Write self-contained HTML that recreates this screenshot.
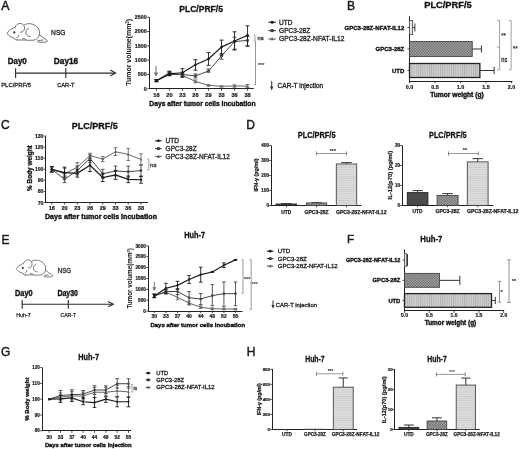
<!DOCTYPE html>
<html><head><meta charset="utf-8"><style>
html,body{margin:0;padding:0;background:#fff;width:520px;height:449px;overflow:hidden}
svg{display:block;filter:grayscale(1)}
text{font-family:"Liberation Sans", sans-serif;paint-order:stroke}
</style></head><body>
<svg width="520" height="449" viewBox="0 0 520 449">
<rect width="520" height="449" fill="#fff"/>
<text x="1.30" y="10.10" font-size="12.3" fill="#1a1a1a" stroke="#1a1a1a" stroke-width="0.45">A</text>
<g>
<g fill="none" stroke="#5a5a5a" stroke-width="0.85" stroke-linecap="round" stroke-linejoin="round">
<path d="M23.9,25.1 C26,23.6 29,23.4 31.5,23.9 C35.5,24.7 38.6,27.5 39.4,31.2 C40.1,34.6 38.6,38.2 35.6,39.7 C32.5,40.6 28,40.3 25.2,40 L17,40" fill="#fff"/>
<path d="M15.1,27.4 C12.5,28 9.6,30 7.9,31.9 C7.0,32.9 7.2,34 8.3,34.9 C10,36.5 12,37.5 14.2,38 L14.4,39 C15.3,39.8 16.5,40 17.4,39.9"/>
<path d="M15.1,27.4 C15.6,24.9 17.9,23.3 20.4,23.4 C23.3,23.6 24.9,26.2 24.5,28.8 C24.2,31 22.6,32.4 20.6,32.2" fill="#fff"/>
<path d="M28.6,28.2 C26.4,29.2 25.6,31.6 26.1,33.6 C26.5,35.6 28.2,36.7 30.2,36.6"/>
<path d="M18.7,35.1 C18.9,36.5 18.2,37.3 17,37.5"/>
<path d="M22.5,38.6 C23.8,38.3 25.5,38.7 26.4,39.8"/>
<path d="M39.3,34.6 C41.2,36.6 44.5,38.6 46.8,40.1 C47.8,40.8 47.4,41.8 46.2,42 C43.5,42.3 40.3,42.4 38.3,42 C37.1,41.7 37.3,40.8 38.6,40.5 C40,40.2 41.8,40.3 42.8,40.1" stroke="#555"/>
</g>
<circle cx="14.3" cy="32.3" r="1.1" fill="#222"/>
</g>
<text x="51.10" y="34.60" font-size="6.9" textLength="14.40" lengthAdjust="spacingAndGlyphs" fill="#222" stroke="#222" stroke-width="0.28">NSG</text>
<line x1="15.60" y1="73.10" x2="115.30" y2="73.10" stroke="#2a2a2a" stroke-width="1.1"/>
<line x1="15.60" y1="68.30" x2="15.60" y2="78.00" stroke="#2a2a2a" stroke-width="1.1"/>
<line x1="65.80" y1="68.30" x2="65.80" y2="78.00" stroke="#2a2a2a" stroke-width="1.1"/>
<polyline points="110.2,70.1 115.6,73.1 110.2,76.1" fill="none" stroke="#2a2a2a" stroke-width="1.1"/>
<text x="7.70" y="63.90" font-size="8.8" font-weight="bold" textLength="19.10" lengthAdjust="spacingAndGlyphs" fill="#111" stroke="#111" stroke-width="0.35">Day0</text>
<text x="53.80" y="63.90" font-size="8.8" font-weight="bold" textLength="24.40" lengthAdjust="spacingAndGlyphs" fill="#111" stroke="#111" stroke-width="0.35">Day16</text>
<text x="1.20" y="87.30" font-size="6.0" textLength="29.80" lengthAdjust="spacingAndGlyphs" fill="#222" stroke="#222" stroke-width="0.28">PLC/PRF/5</text>
<text x="57.20" y="87.30" font-size="6.0" textLength="17.40" lengthAdjust="spacingAndGlyphs" fill="#222" stroke="#222" stroke-width="0.28">CAR-T</text>
<text x="179.20" y="12.00" font-size="9.4" font-weight="bold" textLength="43.80" lengthAdjust="spacingAndGlyphs" fill="#111" stroke="#111" stroke-width="0.3">PLC/PRF/5</text>
<line x1="149.50" y1="17.20" x2="149.50" y2="89.00" stroke="#222" stroke-width="1.0"/>
<line x1="149.00" y1="88.50" x2="253.80" y2="88.50" stroke="#222" stroke-width="1.0"/>
<line x1="147.20" y1="88.80" x2="149.20" y2="88.80" stroke="#222" stroke-width="0.8"/>
<text x="146.80" y="90.74" font-size="5.4" font-weight="bold" text-anchor="end" fill="#222" stroke="#222" stroke-width="0.22">0</text>
<line x1="147.20" y1="74.48" x2="149.20" y2="74.48" stroke="#222" stroke-width="0.8"/>
<text x="146.80" y="76.42" font-size="5.4" font-weight="bold" text-anchor="end" fill="#222" stroke="#222" stroke-width="0.22">500</text>
<line x1="147.20" y1="60.16" x2="149.20" y2="60.16" stroke="#222" stroke-width="0.8"/>
<text x="146.80" y="62.10" font-size="5.4" font-weight="bold" text-anchor="end" fill="#222" stroke="#222" stroke-width="0.22">1000</text>
<line x1="147.20" y1="45.84" x2="149.20" y2="45.84" stroke="#222" stroke-width="0.8"/>
<text x="146.80" y="47.78" font-size="5.4" font-weight="bold" text-anchor="end" fill="#222" stroke="#222" stroke-width="0.22">1500</text>
<line x1="147.20" y1="31.52" x2="149.20" y2="31.52" stroke="#222" stroke-width="0.8"/>
<text x="146.80" y="33.46" font-size="5.4" font-weight="bold" text-anchor="end" fill="#222" stroke="#222" stroke-width="0.22">2000</text>
<line x1="147.20" y1="17.20" x2="149.20" y2="17.20" stroke="#222" stroke-width="0.8"/>
<text x="146.80" y="19.14" font-size="5.4" font-weight="bold" text-anchor="end" fill="#222" stroke="#222" stroke-width="0.22">2500</text>
<line x1="156.40" y1="88.80" x2="156.40" y2="90.80" stroke="#222" stroke-width="0.8"/>
<text x="156.40" y="96.90" font-size="5.6" font-weight="bold" text-anchor="middle" fill="#222" stroke="#222" stroke-width="0.22">16</text>
<line x1="169.42" y1="88.80" x2="169.42" y2="90.80" stroke="#222" stroke-width="0.8"/>
<text x="169.42" y="96.90" font-size="5.6" font-weight="bold" text-anchor="middle" fill="#222" stroke="#222" stroke-width="0.22">20</text>
<line x1="182.44" y1="88.80" x2="182.44" y2="90.80" stroke="#222" stroke-width="0.8"/>
<text x="182.44" y="96.90" font-size="5.6" font-weight="bold" text-anchor="middle" fill="#222" stroke="#222" stroke-width="0.22">23</text>
<line x1="195.46" y1="88.80" x2="195.46" y2="90.80" stroke="#222" stroke-width="0.8"/>
<text x="195.46" y="96.90" font-size="5.6" font-weight="bold" text-anchor="middle" fill="#222" stroke="#222" stroke-width="0.22">26</text>
<line x1="208.48" y1="88.80" x2="208.48" y2="90.80" stroke="#222" stroke-width="0.8"/>
<text x="208.48" y="96.90" font-size="5.6" font-weight="bold" text-anchor="middle" fill="#222" stroke="#222" stroke-width="0.22">29</text>
<line x1="221.50" y1="88.80" x2="221.50" y2="90.80" stroke="#222" stroke-width="0.8"/>
<text x="221.50" y="96.90" font-size="5.6" font-weight="bold" text-anchor="middle" fill="#222" stroke="#222" stroke-width="0.22">33</text>
<line x1="234.52" y1="88.80" x2="234.52" y2="90.80" stroke="#222" stroke-width="0.8"/>
<text x="234.52" y="96.90" font-size="5.6" font-weight="bold" text-anchor="middle" fill="#222" stroke="#222" stroke-width="0.22">36</text>
<line x1="247.54" y1="88.80" x2="247.54" y2="90.80" stroke="#222" stroke-width="0.8"/>
<text x="247.54" y="96.90" font-size="5.6" font-weight="bold" text-anchor="middle" fill="#222" stroke="#222" stroke-width="0.22">38</text>
<line x1="156.40" y1="79.64" x2="156.40" y2="81.64" stroke="#666" stroke-width="0.9"/>
<line x1="154.40" y1="79.64" x2="158.40" y2="79.64" stroke="#666" stroke-width="0.9"/>
<line x1="154.40" y1="81.64" x2="158.40" y2="81.64" stroke="#666" stroke-width="0.9"/>
<line x1="169.42" y1="71.04" x2="169.42" y2="73.91" stroke="#666" stroke-width="0.9"/>
<line x1="167.42" y1="71.04" x2="171.42" y2="71.04" stroke="#666" stroke-width="0.9"/>
<line x1="167.42" y1="73.91" x2="171.42" y2="73.91" stroke="#666" stroke-width="0.9"/>
<line x1="182.44" y1="73.62" x2="182.44" y2="76.77" stroke="#666" stroke-width="0.9"/>
<line x1="180.44" y1="73.62" x2="184.44" y2="73.62" stroke="#666" stroke-width="0.9"/>
<line x1="180.44" y1="76.77" x2="184.44" y2="76.77" stroke="#666" stroke-width="0.9"/>
<line x1="195.46" y1="79.92" x2="195.46" y2="82.79" stroke="#666" stroke-width="0.9"/>
<line x1="193.46" y1="79.92" x2="197.46" y2="79.92" stroke="#666" stroke-width="0.9"/>
<line x1="193.46" y1="82.79" x2="197.46" y2="82.79" stroke="#666" stroke-width="0.9"/>
<line x1="208.48" y1="84.79" x2="208.48" y2="85.94" stroke="#666" stroke-width="0.9"/>
<line x1="206.48" y1="84.79" x2="210.48" y2="84.79" stroke="#666" stroke-width="0.9"/>
<line x1="206.48" y1="85.94" x2="210.48" y2="85.94" stroke="#666" stroke-width="0.9"/>
<line x1="221.50" y1="85.94" x2="221.50" y2="86.80" stroke="#666" stroke-width="0.9"/>
<line x1="219.50" y1="85.94" x2="223.50" y2="85.94" stroke="#666" stroke-width="0.9"/>
<line x1="219.50" y1="86.80" x2="223.50" y2="86.80" stroke="#666" stroke-width="0.9"/>
<line x1="234.52" y1="84.79" x2="234.52" y2="87.08" stroke="#666" stroke-width="0.9"/>
<line x1="232.52" y1="84.79" x2="236.52" y2="84.79" stroke="#666" stroke-width="0.9"/>
<line x1="232.52" y1="87.08" x2="236.52" y2="87.08" stroke="#666" stroke-width="0.9"/>
<line x1="247.54" y1="84.50" x2="247.54" y2="87.37" stroke="#666" stroke-width="0.9"/>
<line x1="245.54" y1="84.50" x2="249.54" y2="84.50" stroke="#666" stroke-width="0.9"/>
<line x1="245.54" y1="87.37" x2="249.54" y2="87.37" stroke="#666" stroke-width="0.9"/>
<polyline points="156.40,80.69 169.42,72.48 182.44,75.34 195.46,81.35 208.48,85.31 221.50,86.31 234.52,85.99 247.54,86.08" fill="none" stroke="#666" stroke-width="1.0"/>
<path d="M156.40,79.26 L157.96,81.86 L154.84,81.86Z" fill="#666"/>
<path d="M169.42,71.05 L170.98,73.65 L167.86,73.65Z" fill="#666"/>
<path d="M182.44,73.91 L184.00,76.51 L180.88,76.51Z" fill="#666"/>
<path d="M195.46,79.92 L197.02,82.52 L193.90,82.52Z" fill="#666"/>
<path d="M208.48,83.88 L210.04,86.48 L206.92,86.48Z" fill="#666"/>
<path d="M221.50,84.88 L223.06,87.48 L219.94,87.48Z" fill="#666"/>
<path d="M234.52,84.56 L236.08,87.16 L232.96,87.16Z" fill="#666"/>
<path d="M247.54,84.65 L249.10,87.25 L245.98,87.25Z" fill="#666"/>
<line x1="156.40" y1="79.64" x2="156.40" y2="81.64" stroke="#464646" stroke-width="0.9"/>
<line x1="154.40" y1="79.64" x2="158.40" y2="79.64" stroke="#464646" stroke-width="0.9"/>
<line x1="154.40" y1="81.64" x2="158.40" y2="81.64" stroke="#464646" stroke-width="0.9"/>
<line x1="169.42" y1="72.76" x2="169.42" y2="75.91" stroke="#464646" stroke-width="0.9"/>
<line x1="167.42" y1="72.76" x2="171.42" y2="72.76" stroke="#464646" stroke-width="0.9"/>
<line x1="167.42" y1="75.91" x2="171.42" y2="75.91" stroke="#464646" stroke-width="0.9"/>
<line x1="182.44" y1="72.19" x2="182.44" y2="76.48" stroke="#464646" stroke-width="0.9"/>
<line x1="180.44" y1="72.19" x2="184.44" y2="72.19" stroke="#464646" stroke-width="0.9"/>
<line x1="180.44" y1="76.48" x2="184.44" y2="76.48" stroke="#464646" stroke-width="0.9"/>
<line x1="195.46" y1="73.91" x2="195.46" y2="77.92" stroke="#464646" stroke-width="0.9"/>
<line x1="193.46" y1="73.91" x2="197.46" y2="73.91" stroke="#464646" stroke-width="0.9"/>
<line x1="193.46" y1="77.92" x2="197.46" y2="77.92" stroke="#464646" stroke-width="0.9"/>
<line x1="208.48" y1="69.04" x2="208.48" y2="72.19" stroke="#464646" stroke-width="0.9"/>
<line x1="206.48" y1="69.04" x2="210.48" y2="69.04" stroke="#464646" stroke-width="0.9"/>
<line x1="206.48" y1="72.19" x2="210.48" y2="72.19" stroke="#464646" stroke-width="0.9"/>
<line x1="221.50" y1="53.57" x2="221.50" y2="59.30" stroke="#464646" stroke-width="0.9"/>
<line x1="219.50" y1="53.57" x2="223.50" y2="53.57" stroke="#464646" stroke-width="0.9"/>
<line x1="219.50" y1="59.30" x2="223.50" y2="59.30" stroke="#464646" stroke-width="0.9"/>
<line x1="234.52" y1="37.25" x2="234.52" y2="50.14" stroke="#464646" stroke-width="0.9"/>
<line x1="232.52" y1="37.25" x2="236.52" y2="37.25" stroke="#464646" stroke-width="0.9"/>
<line x1="232.52" y1="50.14" x2="236.52" y2="50.14" stroke="#464646" stroke-width="0.9"/>
<line x1="247.54" y1="36.39" x2="247.54" y2="46.41" stroke="#464646" stroke-width="0.9"/>
<line x1="245.54" y1="36.39" x2="249.54" y2="36.39" stroke="#464646" stroke-width="0.9"/>
<line x1="245.54" y1="46.41" x2="249.54" y2="46.41" stroke="#464646" stroke-width="0.9"/>
<polyline points="156.40,80.69 169.42,74.48 182.44,74.48 195.46,75.91 208.48,71.04 221.50,55.86 234.52,41.54 247.54,40.40" fill="none" stroke="#464646" stroke-width="1.0"/>
<rect x="155.10" y="79.39" width="2.60" height="2.60" fill="#464646" stroke="none" stroke-width="0"/>
<rect x="168.12" y="73.18" width="2.60" height="2.60" fill="#464646" stroke="none" stroke-width="0"/>
<rect x="181.14" y="73.18" width="2.60" height="2.60" fill="#464646" stroke="none" stroke-width="0"/>
<rect x="194.16" y="74.61" width="2.60" height="2.60" fill="#464646" stroke="none" stroke-width="0"/>
<rect x="207.18" y="69.74" width="2.60" height="2.60" fill="#464646" stroke="none" stroke-width="0"/>
<rect x="220.20" y="54.56" width="2.60" height="2.60" fill="#464646" stroke="none" stroke-width="0"/>
<rect x="233.22" y="40.24" width="2.60" height="2.60" fill="#464646" stroke="none" stroke-width="0"/>
<rect x="246.24" y="39.10" width="2.60" height="2.60" fill="#464646" stroke="none" stroke-width="0"/>
<line x1="156.40" y1="79.64" x2="156.40" y2="81.64" stroke="#1a1a1a" stroke-width="0.9"/>
<line x1="154.40" y1="79.64" x2="158.40" y2="79.64" stroke="#1a1a1a" stroke-width="0.9"/>
<line x1="154.40" y1="81.64" x2="158.40" y2="81.64" stroke="#1a1a1a" stroke-width="0.9"/>
<line x1="169.42" y1="71.62" x2="169.42" y2="75.34" stroke="#1a1a1a" stroke-width="0.9"/>
<line x1="167.42" y1="71.62" x2="171.42" y2="71.62" stroke="#1a1a1a" stroke-width="0.9"/>
<line x1="167.42" y1="75.34" x2="171.42" y2="75.34" stroke="#1a1a1a" stroke-width="0.9"/>
<line x1="182.44" y1="68.75" x2="182.44" y2="77.34" stroke="#1a1a1a" stroke-width="0.9"/>
<line x1="180.44" y1="68.75" x2="184.44" y2="68.75" stroke="#1a1a1a" stroke-width="0.9"/>
<line x1="180.44" y1="77.34" x2="184.44" y2="77.34" stroke="#1a1a1a" stroke-width="0.9"/>
<line x1="195.46" y1="59.70" x2="195.46" y2="70.18" stroke="#1a1a1a" stroke-width="0.9"/>
<line x1="193.46" y1="59.70" x2="197.46" y2="59.70" stroke="#1a1a1a" stroke-width="0.9"/>
<line x1="193.46" y1="70.18" x2="197.46" y2="70.18" stroke="#1a1a1a" stroke-width="0.9"/>
<line x1="208.48" y1="52.43" x2="208.48" y2="65.32" stroke="#1a1a1a" stroke-width="0.9"/>
<line x1="206.48" y1="52.43" x2="210.48" y2="52.43" stroke="#1a1a1a" stroke-width="0.9"/>
<line x1="206.48" y1="65.32" x2="210.48" y2="65.32" stroke="#1a1a1a" stroke-width="0.9"/>
<line x1="221.50" y1="40.11" x2="221.50" y2="55.00" stroke="#1a1a1a" stroke-width="0.9"/>
<line x1="219.50" y1="40.11" x2="223.50" y2="40.11" stroke="#1a1a1a" stroke-width="0.9"/>
<line x1="219.50" y1="55.00" x2="223.50" y2="55.00" stroke="#1a1a1a" stroke-width="0.9"/>
<line x1="234.52" y1="31.81" x2="234.52" y2="49.28" stroke="#1a1a1a" stroke-width="0.9"/>
<line x1="232.52" y1="31.81" x2="236.52" y2="31.81" stroke="#1a1a1a" stroke-width="0.9"/>
<line x1="232.52" y1="49.28" x2="236.52" y2="49.28" stroke="#1a1a1a" stroke-width="0.9"/>
<line x1="247.54" y1="25.79" x2="247.54" y2="45.84" stroke="#1a1a1a" stroke-width="0.9"/>
<line x1="245.54" y1="25.79" x2="249.54" y2="25.79" stroke="#1a1a1a" stroke-width="0.9"/>
<line x1="245.54" y1="45.84" x2="249.54" y2="45.84" stroke="#1a1a1a" stroke-width="0.9"/>
<polyline points="156.40,80.69 169.42,73.91 182.44,72.76 195.46,64.80 208.48,59.01 221.50,47.10 234.52,41.00 247.54,35.30" fill="none" stroke="#1a1a1a" stroke-width="1.2"/>
<circle cx="156.40" cy="80.69" r="1.30" fill="#1a1a1a"/>
<circle cx="169.42" cy="73.91" r="1.30" fill="#1a1a1a"/>
<circle cx="182.44" cy="72.76" r="1.30" fill="#1a1a1a"/>
<circle cx="195.46" cy="64.80" r="1.30" fill="#1a1a1a"/>
<circle cx="208.48" cy="59.01" r="1.30" fill="#1a1a1a"/>
<circle cx="221.50" cy="47.10" r="1.30" fill="#1a1a1a"/>
<circle cx="234.52" cy="41.00" r="1.30" fill="#1a1a1a"/>
<circle cx="247.54" cy="35.30" r="1.30" fill="#1a1a1a"/>
<text x="149.30" y="105.70" font-size="7.0" font-weight="bold" textLength="106.30" lengthAdjust="spacingAndGlyphs" fill="#111" stroke="#111" stroke-width="0.35">Days after tumor cells incubation</text>
<text transform="translate(131.3 85.7) rotate(-90)" font-size="7" font-weight="bold" fill="#111" textLength="66.9" lengthAdjust="spacingAndGlyphs">Tumor volume(mm<tspan font-size="4.5" dy="-2.6">3</tspan><tspan dy="2.6">)</tspan></text>
<line x1="156.00" y1="66.00" x2="156.00" y2="75.50" stroke="#777" stroke-width="1.1"/>
<path d="M153.6,72.6 L156,76.6 L158.4,72.6 Z" fill="#777"/>
<polyline points="253.6,35.0 254.9,35.0 254.9,41.0 253.6,41.0" fill="none" stroke="#888" stroke-width="0.8"/>
<text x="257.60" y="39.60" font-size="6.0" textLength="6.20" lengthAdjust="spacingAndGlyphs" fill="#333" stroke="#333" stroke-width="0.3">ns</text>
<polyline points="255.5,41.2 255.5,84.7 253.8,84.7" fill="none" stroke="#888" stroke-width="0.9"/>
<text x="257.90" y="66.60" font-size="6.2" textLength="6.40" lengthAdjust="spacingAndGlyphs" fill="#333" stroke="#333" stroke-width="0.15">***</text>
<line x1="268.40" y1="22.20" x2="275.80" y2="22.20" stroke="#1a1a1a" stroke-width="1.1"/>
<circle cx="272.10" cy="22.20" r="1.50" fill="#1a1a1a"/>
<text x="279.10" y="24.55" font-size="6.5" fill="#222" stroke="#222" stroke-width="0.3">UTD</text>
<line x1="268.40" y1="30.60" x2="275.80" y2="30.60" stroke="#3a3a3a" stroke-width="1.1"/>
<rect x="270.60" y="29.10" width="3.00" height="3.00" fill="#3a3a3a" stroke="none" stroke-width="0"/>
<text x="279.10" y="32.95" font-size="6.5" fill="#222" stroke="#222" stroke-width="0.3">GPC3-28Z</text>
<line x1="268.40" y1="39.00" x2="275.80" y2="39.00" stroke="#5a5a5a" stroke-width="1.1"/>
<path d="M272.10,37.35 L273.90,40.35 L270.30,40.35Z" fill="#5a5a5a"/>
<text x="279.10" y="41.35" font-size="6.5" textLength="65.30" lengthAdjust="spacingAndGlyphs" fill="#222" stroke="#222" stroke-width="0.3">GPC3-28Z-NFAT-IL12</text>
<line x1="271.70" y1="80.90" x2="271.70" y2="88.00" stroke="#333" stroke-width="1.0"/>
<path d="M270.0,86.6 L271.7,90.4 L273.4,86.6 Z" fill="#333"/>
<text x="277.60" y="88.40" font-size="6.5" textLength="45.60" lengthAdjust="spacingAndGlyphs" fill="#222" stroke="#222" stroke-width="0.3">CAR-T injection</text>
<defs>
<pattern id="hx" width="2.6" height="2.6" patternUnits="userSpaceOnUse"><rect width="2.6" height="2.6" fill="#c0c0c0"/><rect width="1.3" height="1.3" fill="#525252"/><rect x="1.3" y="1.3" width="1.3" height="1.3" fill="#525252"/></pattern>
<pattern id="vs" width="2.2" height="4" patternUnits="userSpaceOnUse"><rect width="2.2" height="4" fill="#d2d2d2"/><rect width="0.9" height="4" fill="#adadad"/></pattern>
<pattern id="hs" width="4" height="2.2" patternUnits="userSpaceOnUse"><rect width="4" height="2.2" fill="#dddddd"/><rect width="4" height="0.8" fill="#cbcbcb"/></pattern>
<pattern id="dk" width="2.4" height="2.4" patternUnits="userSpaceOnUse"><rect width="2.4" height="2.4" fill="#5a5a5a"/><rect width="1.2" height="1.2" fill="#3a3a3a"/><rect x="1.2" y="1.2" width="1.2" height="1.2" fill="#3a3a3a"/></pattern>
</defs>
<text x="347.00" y="10.10" font-size="12.0" fill="#1a1a1a" stroke="#1a1a1a" stroke-width="0.45">B</text>
<text x="424.20" y="7.90" font-size="9.4" font-weight="bold" textLength="47.50" lengthAdjust="spacingAndGlyphs" fill="#111" stroke="#111" stroke-width="0.3">PLC/PRF/5</text>
<line x1="409.50" y1="16.20" x2="409.50" y2="82.00" stroke="#222" stroke-width="1.0"/>
<line x1="409.00" y1="81.50" x2="512.50" y2="81.50" stroke="#222" stroke-width="1.0"/>
<line x1="409.50" y1="81.20" x2="409.50" y2="83.20" stroke="#222" stroke-width="0.8"/>
<text x="409.50" y="88.90" font-size="5.4" font-weight="bold" text-anchor="middle" fill="#222" stroke="#222" stroke-width="0.22">0.0</text>
<line x1="435.00" y1="81.20" x2="435.00" y2="83.20" stroke="#222" stroke-width="0.8"/>
<text x="435.00" y="88.90" font-size="5.4" font-weight="bold" text-anchor="middle" fill="#222" stroke="#222" stroke-width="0.22">0.5</text>
<line x1="460.50" y1="81.20" x2="460.50" y2="83.20" stroke="#222" stroke-width="0.8"/>
<text x="460.50" y="88.90" font-size="5.4" font-weight="bold" text-anchor="middle" fill="#222" stroke="#222" stroke-width="0.22">1.0</text>
<line x1="486.00" y1="81.20" x2="486.00" y2="83.20" stroke="#222" stroke-width="0.8"/>
<text x="486.00" y="88.90" font-size="5.4" font-weight="bold" text-anchor="middle" fill="#222" stroke="#222" stroke-width="0.22">1.5</text>
<line x1="511.50" y1="81.20" x2="511.50" y2="83.20" stroke="#222" stroke-width="0.8"/>
<text x="511.50" y="88.90" font-size="5.4" font-weight="bold" text-anchor="middle" fill="#222" stroke="#222" stroke-width="0.22">2.0</text>
<line x1="412.56" y1="27.50" x2="414.86" y2="27.50" stroke="#333" stroke-width="1.0"/>
<line x1="414.86" y1="23.50" x2="414.86" y2="31.50" stroke="#333" stroke-width="1.0"/>
<rect x="409.50" y="20.50" width="3.06" height="14.00" fill="#e8e8e8" stroke="#555" stroke-width="0.9"/>
<line x1="407.50" y1="27.50" x2="409.50" y2="27.50" stroke="#222" stroke-width="0.8"/>
<text x="404.30" y="29.66" font-size="6.0" font-weight="bold" text-anchor="end" textLength="59.80" lengthAdjust="spacingAndGlyphs" fill="#111" stroke="#111" stroke-width="0.35">GPC3-28Z-NFAT-IL12</text>
<line x1="472.23" y1="49.00" x2="481.41" y2="49.00" stroke="#333" stroke-width="1.0"/>
<line x1="481.41" y1="45.40" x2="481.41" y2="52.60" stroke="#333" stroke-width="1.0"/>
<rect x="409.50" y="41.50" width="62.73" height="15.00" fill="url(#hx)" stroke="#444" stroke-width="0.9"/>
<line x1="407.50" y1="49.00" x2="409.50" y2="49.00" stroke="#222" stroke-width="0.8"/>
<text x="404.30" y="51.16" font-size="6.0" font-weight="bold" text-anchor="end" fill="#111" stroke="#111" stroke-width="0.35">GPC3-28Z</text>
<line x1="479.88" y1="70.50" x2="494.16" y2="70.50" stroke="#333" stroke-width="1.0"/>
<line x1="494.16" y1="66.80" x2="494.16" y2="74.20" stroke="#333" stroke-width="1.0"/>
<rect x="409.50" y="63.50" width="70.38" height="14.00" fill="url(#vs)" stroke="#222" stroke-width="1.3"/>
<line x1="407.50" y1="70.50" x2="409.50" y2="70.50" stroke="#222" stroke-width="0.8"/>
<text x="404.30" y="72.66" font-size="6.0" font-weight="bold" text-anchor="end" fill="#111" stroke="#111" stroke-width="0.35">UTD</text>
<text x="430.20" y="96.80" font-size="6.8" font-weight="bold" textLength="53.50" lengthAdjust="spacingAndGlyphs" fill="#111" stroke="#111" stroke-width="0.35">Tumor weight (g)</text>
<polyline points="497.00,20.60 499.60,20.60 499.60,69.90 497.00,69.90" fill="none" stroke="#888" stroke-width="0.8"/>
<line x1="497.00" y1="47.00" x2="499.60" y2="47.00" stroke="#888" stroke-width="0.8"/>
<text x="501.20" y="38.20" font-size="6.6" textLength="4.80" lengthAdjust="spacingAndGlyphs" fill="#222" stroke="#222" stroke-width="0.15">**</text>
<text x="501.30" y="61.70" font-size="7.0" textLength="6.00" lengthAdjust="spacingAndGlyphs" fill="#333" stroke="#333" stroke-width="0.3">ns</text>
<polyline points="508.70,20.60 511.10,20.60 511.10,69.90 508.70,69.90" fill="none" stroke="#888" stroke-width="0.8"/>
<text x="512.80" y="51.20" font-size="6.6" textLength="4.90" lengthAdjust="spacingAndGlyphs" fill="#222" stroke="#222" stroke-width="0.15">**</text>
<text x="1.00" y="128.50" font-size="12.0" fill="#1a1a1a" stroke="#1a1a1a" stroke-width="0.45">C</text>
<text x="71.80" y="128.50" font-size="9.6" font-weight="bold" textLength="46.00" lengthAdjust="spacingAndGlyphs" fill="#111" stroke="#111" stroke-width="0.3">PLC/PRF/5</text>
<line x1="45.50" y1="135.90" x2="45.50" y2="203.00" stroke="#222" stroke-width="1.0"/>
<line x1="45.00" y1="202.50" x2="148.00" y2="202.50" stroke="#222" stroke-width="1.0"/>
<line x1="43.90" y1="202.60" x2="45.90" y2="202.60" stroke="#222" stroke-width="0.8"/>
<text x="43.50" y="204.54" font-size="5.4" font-weight="bold" text-anchor="end" textLength="5.80" lengthAdjust="spacingAndGlyphs" fill="#222" stroke="#222" stroke-width="0.22">70</text>
<line x1="43.90" y1="191.52" x2="45.90" y2="191.52" stroke="#222" stroke-width="0.8"/>
<text x="43.50" y="193.46" font-size="5.4" font-weight="bold" text-anchor="end" textLength="5.80" lengthAdjust="spacingAndGlyphs" fill="#222" stroke="#222" stroke-width="0.22">80</text>
<line x1="43.90" y1="180.43" x2="45.90" y2="180.43" stroke="#222" stroke-width="0.8"/>
<text x="43.50" y="182.38" font-size="5.4" font-weight="bold" text-anchor="end" textLength="5.80" lengthAdjust="spacingAndGlyphs" fill="#222" stroke="#222" stroke-width="0.22">90</text>
<line x1="43.90" y1="169.35" x2="45.90" y2="169.35" stroke="#222" stroke-width="0.8"/>
<text x="43.50" y="171.29" font-size="5.4" font-weight="bold" text-anchor="end" textLength="8.60" lengthAdjust="spacingAndGlyphs" fill="#222" stroke="#222" stroke-width="0.22">100</text>
<line x1="43.90" y1="158.27" x2="45.90" y2="158.27" stroke="#222" stroke-width="0.8"/>
<text x="43.50" y="160.21" font-size="5.4" font-weight="bold" text-anchor="end" textLength="8.60" lengthAdjust="spacingAndGlyphs" fill="#222" stroke="#222" stroke-width="0.22">110</text>
<line x1="43.90" y1="147.19" x2="45.90" y2="147.19" stroke="#222" stroke-width="0.8"/>
<text x="43.50" y="149.13" font-size="5.4" font-weight="bold" text-anchor="end" textLength="8.60" lengthAdjust="spacingAndGlyphs" fill="#222" stroke="#222" stroke-width="0.22">120</text>
<line x1="43.90" y1="136.10" x2="45.90" y2="136.10" stroke="#222" stroke-width="0.8"/>
<text x="43.50" y="138.05" font-size="5.4" font-weight="bold" text-anchor="end" textLength="8.60" lengthAdjust="spacingAndGlyphs" fill="#222" stroke="#222" stroke-width="0.22">130</text>
<line x1="51.80" y1="202.60" x2="51.80" y2="204.60" stroke="#222" stroke-width="0.8"/>
<text x="51.80" y="209.60" font-size="5.6" font-weight="bold" text-anchor="middle" fill="#222" stroke="#222" stroke-width="0.22">16</text>
<line x1="64.54" y1="202.60" x2="64.54" y2="204.60" stroke="#222" stroke-width="0.8"/>
<text x="64.54" y="209.60" font-size="5.6" font-weight="bold" text-anchor="middle" fill="#222" stroke="#222" stroke-width="0.22">20</text>
<line x1="77.28" y1="202.60" x2="77.28" y2="204.60" stroke="#222" stroke-width="0.8"/>
<text x="77.28" y="209.60" font-size="5.6" font-weight="bold" text-anchor="middle" fill="#222" stroke="#222" stroke-width="0.22">23</text>
<line x1="90.02" y1="202.60" x2="90.02" y2="204.60" stroke="#222" stroke-width="0.8"/>
<text x="90.02" y="209.60" font-size="5.6" font-weight="bold" text-anchor="middle" fill="#222" stroke="#222" stroke-width="0.22">26</text>
<line x1="102.76" y1="202.60" x2="102.76" y2="204.60" stroke="#222" stroke-width="0.8"/>
<text x="102.76" y="209.60" font-size="5.6" font-weight="bold" text-anchor="middle" fill="#222" stroke="#222" stroke-width="0.22">29</text>
<line x1="115.50" y1="202.60" x2="115.50" y2="204.60" stroke="#222" stroke-width="0.8"/>
<text x="115.50" y="209.60" font-size="5.6" font-weight="bold" text-anchor="middle" fill="#222" stroke="#222" stroke-width="0.22">33</text>
<line x1="128.24" y1="202.60" x2="128.24" y2="204.60" stroke="#222" stroke-width="0.8"/>
<text x="128.24" y="209.60" font-size="5.6" font-weight="bold" text-anchor="middle" fill="#222" stroke="#222" stroke-width="0.22">36</text>
<line x1="140.98" y1="202.60" x2="140.98" y2="204.60" stroke="#222" stroke-width="0.8"/>
<text x="140.98" y="209.60" font-size="5.6" font-weight="bold" text-anchor="middle" fill="#222" stroke="#222" stroke-width="0.22">38</text>
<line x1="51.80" y1="167.13" x2="51.80" y2="171.57" stroke="#666" stroke-width="0.9"/>
<line x1="49.90" y1="167.13" x2="53.70" y2="167.13" stroke="#666" stroke-width="0.9"/>
<line x1="49.90" y1="171.57" x2="53.70" y2="171.57" stroke="#666" stroke-width="0.9"/>
<line x1="64.54" y1="168.24" x2="64.54" y2="178.22" stroke="#666" stroke-width="0.9"/>
<line x1="62.64" y1="168.24" x2="66.44" y2="168.24" stroke="#666" stroke-width="0.9"/>
<line x1="62.64" y1="178.22" x2="66.44" y2="178.22" stroke="#666" stroke-width="0.9"/>
<line x1="77.28" y1="162.70" x2="77.28" y2="171.57" stroke="#666" stroke-width="0.9"/>
<line x1="75.38" y1="162.70" x2="79.18" y2="162.70" stroke="#666" stroke-width="0.9"/>
<line x1="75.38" y1="171.57" x2="79.18" y2="171.57" stroke="#666" stroke-width="0.9"/>
<line x1="90.02" y1="153.28" x2="90.02" y2="158.27" stroke="#666" stroke-width="0.9"/>
<line x1="88.12" y1="153.28" x2="91.92" y2="153.28" stroke="#666" stroke-width="0.9"/>
<line x1="88.12" y1="158.27" x2="91.92" y2="158.27" stroke="#666" stroke-width="0.9"/>
<line x1="102.76" y1="156.61" x2="102.76" y2="161.59" stroke="#666" stroke-width="0.9"/>
<line x1="100.86" y1="156.61" x2="104.66" y2="156.61" stroke="#666" stroke-width="0.9"/>
<line x1="100.86" y1="161.59" x2="104.66" y2="161.59" stroke="#666" stroke-width="0.9"/>
<line x1="115.50" y1="147.74" x2="115.50" y2="155.50" stroke="#666" stroke-width="0.9"/>
<line x1="113.60" y1="147.74" x2="117.40" y2="147.74" stroke="#666" stroke-width="0.9"/>
<line x1="113.60" y1="155.50" x2="117.40" y2="155.50" stroke="#666" stroke-width="0.9"/>
<line x1="128.24" y1="148.29" x2="128.24" y2="160.48" stroke="#666" stroke-width="0.9"/>
<line x1="126.34" y1="148.29" x2="130.14" y2="148.29" stroke="#666" stroke-width="0.9"/>
<line x1="126.34" y1="160.48" x2="130.14" y2="160.48" stroke="#666" stroke-width="0.9"/>
<line x1="140.98" y1="153.83" x2="140.98" y2="164.92" stroke="#666" stroke-width="0.9"/>
<line x1="139.08" y1="153.83" x2="142.88" y2="153.83" stroke="#666" stroke-width="0.9"/>
<line x1="139.08" y1="164.92" x2="142.88" y2="164.92" stroke="#666" stroke-width="0.9"/>
<polyline points="51.80,169.35 64.54,173.78 77.28,167.13 90.02,155.61 102.76,159.04 115.50,151.73 128.24,154.39 140.98,159.49" fill="none" stroke="#666" stroke-width="1.0"/>
<path d="M51.80,168.03 L53.24,170.43 L50.36,170.43Z" fill="#666"/>
<path d="M64.54,172.46 L65.98,174.86 L63.10,174.86Z" fill="#666"/>
<path d="M77.28,165.81 L78.72,168.21 L75.84,168.21Z" fill="#666"/>
<path d="M90.02,154.29 L91.46,156.69 L88.58,156.69Z" fill="#666"/>
<path d="M102.76,157.72 L104.20,160.12 L101.32,160.12Z" fill="#666"/>
<path d="M115.50,150.41 L116.94,152.81 L114.06,152.81Z" fill="#666"/>
<path d="M128.24,153.07 L129.68,155.47 L126.80,155.47Z" fill="#666"/>
<path d="M140.98,158.17 L142.42,160.57 L139.54,160.57Z" fill="#666"/>
<line x1="51.80" y1="166.58" x2="51.80" y2="172.12" stroke="#464646" stroke-width="0.9"/>
<line x1="49.90" y1="166.58" x2="53.70" y2="166.58" stroke="#464646" stroke-width="0.9"/>
<line x1="49.90" y1="172.12" x2="53.70" y2="172.12" stroke="#464646" stroke-width="0.9"/>
<line x1="64.54" y1="176.00" x2="64.54" y2="182.65" stroke="#464646" stroke-width="0.9"/>
<line x1="62.64" y1="176.00" x2="66.44" y2="176.00" stroke="#464646" stroke-width="0.9"/>
<line x1="62.64" y1="182.65" x2="66.44" y2="182.65" stroke="#464646" stroke-width="0.9"/>
<line x1="77.28" y1="166.03" x2="77.28" y2="174.89" stroke="#464646" stroke-width="0.9"/>
<line x1="75.38" y1="166.03" x2="79.18" y2="166.03" stroke="#464646" stroke-width="0.9"/>
<line x1="75.38" y1="174.89" x2="79.18" y2="174.89" stroke="#464646" stroke-width="0.9"/>
<line x1="90.02" y1="154.94" x2="90.02" y2="162.70" stroke="#464646" stroke-width="0.9"/>
<line x1="88.12" y1="154.94" x2="91.92" y2="154.94" stroke="#464646" stroke-width="0.9"/>
<line x1="88.12" y1="162.70" x2="91.92" y2="162.70" stroke="#464646" stroke-width="0.9"/>
<line x1="102.76" y1="169.35" x2="102.76" y2="178.22" stroke="#464646" stroke-width="0.9"/>
<line x1="100.86" y1="169.35" x2="104.66" y2="169.35" stroke="#464646" stroke-width="0.9"/>
<line x1="100.86" y1="178.22" x2="104.66" y2="178.22" stroke="#464646" stroke-width="0.9"/>
<line x1="115.50" y1="166.03" x2="115.50" y2="176.00" stroke="#464646" stroke-width="0.9"/>
<line x1="113.60" y1="166.03" x2="117.40" y2="166.03" stroke="#464646" stroke-width="0.9"/>
<line x1="113.60" y1="176.00" x2="117.40" y2="176.00" stroke="#464646" stroke-width="0.9"/>
<line x1="128.24" y1="166.03" x2="128.24" y2="177.11" stroke="#464646" stroke-width="0.9"/>
<line x1="126.34" y1="166.03" x2="130.14" y2="166.03" stroke="#464646" stroke-width="0.9"/>
<line x1="126.34" y1="177.11" x2="130.14" y2="177.11" stroke="#464646" stroke-width="0.9"/>
<line x1="140.98" y1="164.92" x2="140.98" y2="176.00" stroke="#464646" stroke-width="0.9"/>
<line x1="139.08" y1="164.92" x2="142.88" y2="164.92" stroke="#464646" stroke-width="0.9"/>
<line x1="139.08" y1="176.00" x2="142.88" y2="176.00" stroke="#464646" stroke-width="0.9"/>
<polyline points="51.80,169.35 64.54,179.33 77.28,170.57 90.02,158.38 102.76,173.78 115.50,171.01 128.24,171.68 140.98,170.57" fill="none" stroke="#464646" stroke-width="1.0"/>
<rect x="50.60" y="168.15" width="2.40" height="2.40" fill="#464646" stroke="none" stroke-width="0"/>
<rect x="63.34" y="178.13" width="2.40" height="2.40" fill="#464646" stroke="none" stroke-width="0"/>
<rect x="76.08" y="169.37" width="2.40" height="2.40" fill="#464646" stroke="none" stroke-width="0"/>
<rect x="88.82" y="157.18" width="2.40" height="2.40" fill="#464646" stroke="none" stroke-width="0"/>
<rect x="101.56" y="172.58" width="2.40" height="2.40" fill="#464646" stroke="none" stroke-width="0"/>
<rect x="114.30" y="169.81" width="2.40" height="2.40" fill="#464646" stroke="none" stroke-width="0"/>
<rect x="127.04" y="170.48" width="2.40" height="2.40" fill="#464646" stroke="none" stroke-width="0"/>
<rect x="139.78" y="169.37" width="2.40" height="2.40" fill="#464646" stroke="none" stroke-width="0"/>
<line x1="51.80" y1="166.58" x2="51.80" y2="172.12" stroke="#1a1a1a" stroke-width="0.9"/>
<line x1="49.90" y1="166.58" x2="53.70" y2="166.58" stroke="#1a1a1a" stroke-width="0.9"/>
<line x1="49.90" y1="172.12" x2="53.70" y2="172.12" stroke="#1a1a1a" stroke-width="0.9"/>
<line x1="64.54" y1="167.13" x2="64.54" y2="177.11" stroke="#1a1a1a" stroke-width="0.9"/>
<line x1="62.64" y1="167.13" x2="66.44" y2="167.13" stroke="#1a1a1a" stroke-width="0.9"/>
<line x1="62.64" y1="177.11" x2="66.44" y2="177.11" stroke="#1a1a1a" stroke-width="0.9"/>
<line x1="77.28" y1="169.35" x2="77.28" y2="177.11" stroke="#1a1a1a" stroke-width="0.9"/>
<line x1="75.38" y1="169.35" x2="79.18" y2="169.35" stroke="#1a1a1a" stroke-width="0.9"/>
<line x1="75.38" y1="177.11" x2="79.18" y2="177.11" stroke="#1a1a1a" stroke-width="0.9"/>
<line x1="90.02" y1="160.48" x2="90.02" y2="171.57" stroke="#1a1a1a" stroke-width="0.9"/>
<line x1="88.12" y1="160.48" x2="91.92" y2="160.48" stroke="#1a1a1a" stroke-width="0.9"/>
<line x1="88.12" y1="171.57" x2="91.92" y2="171.57" stroke="#1a1a1a" stroke-width="0.9"/>
<line x1="102.76" y1="173.78" x2="102.76" y2="181.54" stroke="#1a1a1a" stroke-width="0.9"/>
<line x1="100.86" y1="173.78" x2="104.66" y2="173.78" stroke="#1a1a1a" stroke-width="0.9"/>
<line x1="100.86" y1="181.54" x2="104.66" y2="181.54" stroke="#1a1a1a" stroke-width="0.9"/>
<line x1="115.50" y1="170.46" x2="115.50" y2="179.33" stroke="#1a1a1a" stroke-width="0.9"/>
<line x1="113.60" y1="170.46" x2="117.40" y2="170.46" stroke="#1a1a1a" stroke-width="0.9"/>
<line x1="113.60" y1="179.33" x2="117.40" y2="179.33" stroke="#1a1a1a" stroke-width="0.9"/>
<line x1="128.24" y1="176.00" x2="128.24" y2="182.65" stroke="#1a1a1a" stroke-width="0.9"/>
<line x1="126.34" y1="176.00" x2="130.14" y2="176.00" stroke="#1a1a1a" stroke-width="0.9"/>
<line x1="126.34" y1="182.65" x2="130.14" y2="182.65" stroke="#1a1a1a" stroke-width="0.9"/>
<line x1="140.98" y1="176.55" x2="140.98" y2="183.20" stroke="#1a1a1a" stroke-width="0.9"/>
<line x1="139.08" y1="176.55" x2="142.88" y2="176.55" stroke="#1a1a1a" stroke-width="0.9"/>
<line x1="139.08" y1="183.20" x2="142.88" y2="183.20" stroke="#1a1a1a" stroke-width="0.9"/>
<polyline points="51.80,169.35 64.54,172.68 77.28,173.34 90.02,165.25 102.76,177.55 115.50,174.89 128.24,179.33 140.98,179.77" fill="none" stroke="#1a1a1a" stroke-width="1.2"/>
<circle cx="51.80" cy="169.35" r="1.20" fill="#1a1a1a"/>
<circle cx="64.54" cy="172.68" r="1.20" fill="#1a1a1a"/>
<circle cx="77.28" cy="173.34" r="1.20" fill="#1a1a1a"/>
<circle cx="90.02" cy="165.25" r="1.20" fill="#1a1a1a"/>
<circle cx="102.76" cy="177.55" r="1.20" fill="#1a1a1a"/>
<circle cx="115.50" cy="174.89" r="1.20" fill="#1a1a1a"/>
<circle cx="128.24" cy="179.33" r="1.20" fill="#1a1a1a"/>
<circle cx="140.98" cy="179.77" r="1.20" fill="#1a1a1a"/>
<text x="45.00" y="218.70" font-size="7.0" font-weight="bold" textLength="112.00" lengthAdjust="spacingAndGlyphs" fill="#111" stroke="#111" stroke-width="0.35">Days after tumor cells incubation</text>
<text transform="translate(31.90 190.90) rotate(-90)" font-size="6.4" font-weight="bold" fill="#111" stroke="#111" stroke-width="0.3" textLength="45.60" lengthAdjust="spacingAndGlyphs">% Body weight</text>
<line x1="155.20" y1="140.80" x2="161.60" y2="140.80" stroke="#1a1a1a" stroke-width="1.1"/>
<circle cx="158.40" cy="140.80" r="1.40" fill="#1a1a1a"/>
<text x="165.60" y="143.14" font-size="6.5" fill="#222" stroke="#222" stroke-width="0.3">UTD</text>
<line x1="155.20" y1="148.60" x2="161.60" y2="148.60" stroke="#3a3a3a" stroke-width="1.1"/>
<rect x="157.00" y="147.20" width="2.80" height="2.80" fill="#3a3a3a" stroke="none" stroke-width="0"/>
<text x="165.60" y="150.94" font-size="6.5" fill="#222" stroke="#222" stroke-width="0.3">GPC3-28Z</text>
<line x1="155.20" y1="156.40" x2="161.60" y2="156.40" stroke="#5a5a5a" stroke-width="1.1"/>
<path d="M158.40,154.86 L160.08,157.66 L156.72,157.66Z" fill="#5a5a5a"/>
<text x="165.60" y="158.74" font-size="6.5" textLength="64.30" lengthAdjust="spacingAndGlyphs" fill="#222" stroke="#222" stroke-width="0.3">GPC3-28Z-NFAT-IL12</text>
<polyline points="147.3,159.1 148.8,159.1 148.8,170.0 147.3,170.0" fill="none" stroke="#888" stroke-width="0.8"/>
<text x="150.00" y="166.90" font-size="6.2" textLength="6.50" lengthAdjust="spacingAndGlyphs" fill="#333" stroke="#333" stroke-width="0.3">ns</text>
<text x="246.30" y="128.80" font-size="12.0" fill="#1a1a1a" stroke="#1a1a1a" stroke-width="0.45">D</text>
<text x="297.80" y="137.60" font-size="8.6" font-weight="bold" textLength="37.70" lengthAdjust="spacingAndGlyphs" fill="#111" stroke="#111" stroke-width="0.3">PLC/PRF/5</text>
<line x1="271.50" y1="145.50" x2="271.50" y2="206.00" stroke="#222" stroke-width="1.0"/>
<line x1="271.00" y1="205.50" x2="361.40" y2="205.50" stroke="#222" stroke-width="1.0"/>
<line x1="269.20" y1="205.50" x2="271.20" y2="205.50" stroke="#222" stroke-width="0.8"/>
<text x="269.00" y="207.16" font-size="4.6" font-weight="bold" text-anchor="end" fill="#222" stroke="#222" stroke-width="0.22">0</text>
<line x1="269.20" y1="190.50" x2="271.20" y2="190.50" stroke="#222" stroke-width="0.8"/>
<text x="269.00" y="192.16" font-size="4.6" font-weight="bold" text-anchor="end" fill="#222" stroke="#222" stroke-width="0.22">100</text>
<line x1="269.20" y1="175.50" x2="271.20" y2="175.50" stroke="#222" stroke-width="0.8"/>
<text x="269.00" y="177.16" font-size="4.6" font-weight="bold" text-anchor="end" fill="#222" stroke="#222" stroke-width="0.22">200</text>
<line x1="269.20" y1="160.50" x2="271.20" y2="160.50" stroke="#222" stroke-width="0.8"/>
<text x="269.00" y="162.16" font-size="4.6" font-weight="bold" text-anchor="end" fill="#222" stroke="#222" stroke-width="0.22">300</text>
<line x1="269.20" y1="145.50" x2="271.20" y2="145.50" stroke="#222" stroke-width="0.8"/>
<text x="269.00" y="147.16" font-size="4.6" font-weight="bold" text-anchor="end" fill="#222" stroke="#222" stroke-width="0.22">400</text>
<line x1="286.35" y1="204.00" x2="286.35" y2="203.70" stroke="#333" stroke-width="1.0"/>
<line x1="281.23" y1="203.70" x2="291.48" y2="203.70" stroke="#333" stroke-width="1.0"/>
<rect x="276.10" y="204.00" width="20.50" height="1.50" fill="url(#dk)" stroke="#222" stroke-width="0.9"/>
<line x1="286.35" y1="205.50" x2="286.35" y2="207.30" stroke="#222" stroke-width="0.8"/>
<text x="286.35" y="213.60" font-size="5.0" font-weight="bold" text-anchor="middle" textLength="10.00" lengthAdjust="spacingAndGlyphs" fill="#222" stroke="#222" stroke-width="0.25">UTD</text>
<line x1="316.55" y1="202.95" x2="316.55" y2="202.65" stroke="#333" stroke-width="1.0"/>
<line x1="311.47" y1="202.65" x2="321.62" y2="202.65" stroke="#333" stroke-width="1.0"/>
<rect x="306.40" y="202.95" width="20.30" height="2.55" fill="url(#hx)" stroke="#444" stroke-width="0.9"/>
<line x1="316.55" y1="205.50" x2="316.55" y2="207.30" stroke="#222" stroke-width="0.8"/>
<text x="316.55" y="213.60" font-size="5.0" font-weight="bold" text-anchor="middle" textLength="24.00" lengthAdjust="spacingAndGlyphs" fill="#222" stroke="#222" stroke-width="0.25">GPC3-28Z</text>
<line x1="346.50" y1="163.95" x2="346.50" y2="162.60" stroke="#333" stroke-width="1.0"/>
<line x1="341.30" y1="162.60" x2="351.70" y2="162.60" stroke="#333" stroke-width="1.0"/>
<rect x="336.30" y="163.95" width="20.40" height="41.55" fill="url(#hs)" stroke="#444" stroke-width="0.9"/>
<line x1="346.50" y1="205.50" x2="346.50" y2="207.30" stroke="#222" stroke-width="0.8"/>
<text x="336.00" y="213.60" font-size="5.0" font-weight="bold" textLength="50.50" lengthAdjust="spacingAndGlyphs" fill="#222" stroke="#222" stroke-width="0.25">GPC3-28Z-NFAT-IL12</text>
<line x1="316.60" y1="153.50" x2="346.60" y2="153.50" stroke="#999" stroke-width="1.0"/>
<line x1="316.60" y1="151.50" x2="316.60" y2="155.50" stroke="#777" stroke-width="0.9"/>
<line x1="346.60" y1="151.50" x2="346.60" y2="155.50" stroke="#777" stroke-width="0.9"/>
<text x="332.90" y="153.00" font-size="5.6" text-anchor="middle" textLength="6.20" lengthAdjust="spacingAndGlyphs" fill="#222" stroke="#222" stroke-width="0.15">***</text>
<text transform="translate(257.90 191.60) rotate(-90)" font-size="5.6" font-weight="bold" fill="#222" stroke="#222" stroke-width="0.25" textLength="33.20" lengthAdjust="spacingAndGlyphs">IFN-γ (pg/ml)</text>
<text x="429.00" y="137.60" font-size="8.6" font-weight="bold" textLength="37.50" lengthAdjust="spacingAndGlyphs" fill="#111" stroke="#111" stroke-width="0.3">PLC/PRF/5</text>
<line x1="402.50" y1="145.40" x2="402.50" y2="206.00" stroke="#222" stroke-width="1.0"/>
<line x1="402.00" y1="205.50" x2="493.30" y2="205.50" stroke="#222" stroke-width="1.0"/>
<line x1="400.20" y1="205.40" x2="402.20" y2="205.40" stroke="#222" stroke-width="0.8"/>
<text x="400.00" y="207.06" font-size="4.6" font-weight="bold" text-anchor="end" fill="#222" stroke="#222" stroke-width="0.22">0</text>
<line x1="400.20" y1="185.43" x2="402.20" y2="185.43" stroke="#222" stroke-width="0.8"/>
<text x="400.00" y="187.09" font-size="4.6" font-weight="bold" text-anchor="end" fill="#222" stroke="#222" stroke-width="0.22">10</text>
<line x1="400.20" y1="165.46" x2="402.20" y2="165.46" stroke="#222" stroke-width="0.8"/>
<text x="400.00" y="167.12" font-size="4.6" font-weight="bold" text-anchor="end" fill="#222" stroke="#222" stroke-width="0.22">20</text>
<line x1="400.20" y1="145.49" x2="402.20" y2="145.49" stroke="#222" stroke-width="0.8"/>
<text x="400.00" y="147.15" font-size="4.6" font-weight="bold" text-anchor="end" fill="#222" stroke="#222" stroke-width="0.22">30</text>
<line x1="417.60" y1="192.62" x2="417.60" y2="190.62" stroke="#333" stroke-width="1.0"/>
<line x1="412.45" y1="190.62" x2="422.75" y2="190.62" stroke="#333" stroke-width="1.0"/>
<rect x="407.30" y="192.62" width="20.60" height="12.78" fill="url(#dk)" stroke="#222" stroke-width="0.9"/>
<line x1="417.60" y1="205.40" x2="417.60" y2="207.20" stroke="#222" stroke-width="0.8"/>
<text x="417.60" y="213.40" font-size="5.0" font-weight="bold" text-anchor="middle" textLength="10.00" lengthAdjust="spacingAndGlyphs" fill="#222" stroke="#222" stroke-width="0.25">UTD</text>
<line x1="447.60" y1="195.41" x2="447.60" y2="193.62" stroke="#333" stroke-width="1.0"/>
<line x1="442.35" y1="193.62" x2="452.85" y2="193.62" stroke="#333" stroke-width="1.0"/>
<rect x="437.10" y="195.41" width="21.00" height="9.99" fill="url(#hx)" stroke="#444" stroke-width="0.9"/>
<line x1="447.60" y1="205.40" x2="447.60" y2="207.20" stroke="#222" stroke-width="0.8"/>
<text x="447.60" y="213.40" font-size="5.0" font-weight="bold" text-anchor="middle" textLength="24.00" lengthAdjust="spacingAndGlyphs" fill="#222" stroke="#222" stroke-width="0.25">GPC3-28Z</text>
<line x1="477.70" y1="161.87" x2="477.70" y2="158.67" stroke="#333" stroke-width="1.0"/>
<line x1="472.50" y1="158.67" x2="482.90" y2="158.67" stroke="#333" stroke-width="1.0"/>
<rect x="467.30" y="161.87" width="20.80" height="43.53" fill="url(#hs)" stroke="#444" stroke-width="0.9"/>
<line x1="477.70" y1="205.40" x2="477.70" y2="207.20" stroke="#222" stroke-width="0.8"/>
<text x="467.10" y="213.40" font-size="5.0" font-weight="bold" textLength="51.40" lengthAdjust="spacingAndGlyphs" fill="#222" stroke="#222" stroke-width="0.25">GPC3-28Z-NFAT-IL12</text>
<line x1="448.50" y1="153.50" x2="478.20" y2="153.50" stroke="#999" stroke-width="1.0"/>
<line x1="448.50" y1="151.50" x2="448.50" y2="155.50" stroke="#777" stroke-width="0.9"/>
<line x1="478.20" y1="151.50" x2="478.20" y2="155.50" stroke="#777" stroke-width="0.9"/>
<text x="465.00" y="152.40" font-size="5.6" text-anchor="middle" textLength="4.30" lengthAdjust="spacingAndGlyphs" fill="#222" stroke="#222" stroke-width="0.15">**</text>
<text transform="translate(392.20 199.40) rotate(-90)" font-size="5.8" font-weight="bold" fill="#222" stroke="#222" stroke-width="0.25" textLength="48.50" lengthAdjust="spacingAndGlyphs">IL-12(p70) (pg/ml)</text>
<text x="1.50" y="243.50" font-size="12.0" fill="#1a1a1a" stroke="#1a1a1a" stroke-width="0.45">E</text>
<g transform="translate(16.2 260) scale(0.905) translate(-7 -23.5)">
<g fill="none" stroke="#5a5a5a" stroke-width="0.85" stroke-linecap="round" stroke-linejoin="round">
<path d="M23.9,25.1 C26,23.6 29,23.4 31.5,23.9 C35.5,24.7 38.6,27.5 39.4,31.2 C40.1,34.6 38.6,38.2 35.6,39.7 C32.5,40.6 28,40.3 25.2,40 L17,40" fill="#fff"/>
<path d="M15.1,27.4 C12.5,28 9.6,30 7.9,31.9 C7.0,32.9 7.2,34 8.3,34.9 C10,36.5 12,37.5 14.2,38 L14.4,39 C15.3,39.8 16.5,40 17.4,39.9"/>
<path d="M15.1,27.4 C15.6,24.9 17.9,23.3 20.4,23.4 C23.3,23.6 24.9,26.2 24.5,28.8 C24.2,31 22.6,32.4 20.6,32.2" fill="#fff"/>
<path d="M28.6,28.2 C26.4,29.2 25.6,31.6 26.1,33.6 C26.5,35.6 28.2,36.7 30.2,36.6"/>
<path d="M18.7,35.1 C18.9,36.5 18.2,37.3 17,37.5"/>
<path d="M22.5,38.6 C23.8,38.3 25.5,38.7 26.4,39.8"/>
<path d="M39.3,34.6 C41.2,36.6 44.5,38.6 46.8,40.1 C47.8,40.8 47.4,41.8 46.2,42 C43.5,42.3 40.3,42.4 38.3,42 C37.1,41.7 37.3,40.8 38.6,40.5 C40,40.2 41.8,40.3 42.8,40.1" stroke="#555"/>
</g>
<circle cx="14.3" cy="32.3" r="1.1" fill="#222"/>
</g>
<text x="57.80" y="273.30" font-size="6.7" textLength="13.30" lengthAdjust="spacingAndGlyphs" fill="#222" stroke="#222" stroke-width="0.28">NSG</text>
<line x1="22.20" y1="304.20" x2="112.90" y2="304.20" stroke="#2a2a2a" stroke-width="1.1"/>
<line x1="22.20" y1="300.00" x2="22.20" y2="308.80" stroke="#2a2a2a" stroke-width="1.1"/>
<line x1="68.30" y1="300.00" x2="68.30" y2="308.80" stroke="#2a2a2a" stroke-width="1.1"/>
<polyline points="108.1,301.6 113.3,304.2 108.1,306.8" fill="none" stroke="#2a2a2a" stroke-width="1.1"/>
<text x="15.00" y="296.00" font-size="8.2" font-weight="bold" textLength="17.60" lengthAdjust="spacingAndGlyphs" fill="#111" stroke="#111" stroke-width="0.35">Day0</text>
<text x="57.40" y="296.00" font-size="8.2" font-weight="bold" textLength="20.60" lengthAdjust="spacingAndGlyphs" fill="#111" stroke="#111" stroke-width="0.35">Day30</text>
<text x="16.20" y="317.00" font-size="5.5" textLength="14.50" lengthAdjust="spacingAndGlyphs" fill="#222" stroke="#222" stroke-width="0.25">Huh-7</text>
<text x="60.50" y="317.00" font-size="5.5" textLength="15.50" lengthAdjust="spacingAndGlyphs" fill="#222" stroke="#222" stroke-width="0.25">CAR-T</text>
<text x="184.20" y="237.90" font-size="8.8" font-weight="bold" textLength="20.80" lengthAdjust="spacingAndGlyphs" fill="#111" stroke="#111" stroke-width="0.3">Huh-7</text>
<line x1="148.50" y1="245.90" x2="148.50" y2="312.00" stroke="#222" stroke-width="1.0"/>
<line x1="148.00" y1="311.50" x2="242.50" y2="311.50" stroke="#222" stroke-width="1.0"/>
<line x1="146.30" y1="311.10" x2="148.30" y2="311.10" stroke="#222" stroke-width="0.8"/>
<text x="145.90" y="312.83" font-size="4.8" font-weight="bold" text-anchor="end" textLength="2.60" lengthAdjust="spacingAndGlyphs" fill="#222" stroke="#222" stroke-width="0.22">0</text>
<line x1="146.30" y1="300.23" x2="148.30" y2="300.23" stroke="#222" stroke-width="0.8"/>
<text x="145.90" y="301.95" font-size="4.8" font-weight="bold" text-anchor="end" textLength="7.80" lengthAdjust="spacingAndGlyphs" fill="#222" stroke="#222" stroke-width="0.22">500</text>
<line x1="146.30" y1="289.35" x2="148.30" y2="289.35" stroke="#222" stroke-width="0.8"/>
<text x="145.90" y="291.08" font-size="4.8" font-weight="bold" text-anchor="end" textLength="10.40" lengthAdjust="spacingAndGlyphs" fill="#222" stroke="#222" stroke-width="0.22">1000</text>
<line x1="146.30" y1="278.48" x2="148.30" y2="278.48" stroke="#222" stroke-width="0.8"/>
<text x="145.90" y="280.20" font-size="4.8" font-weight="bold" text-anchor="end" textLength="10.40" lengthAdjust="spacingAndGlyphs" fill="#222" stroke="#222" stroke-width="0.22">1500</text>
<line x1="146.30" y1="267.60" x2="148.30" y2="267.60" stroke="#222" stroke-width="0.8"/>
<text x="145.90" y="269.33" font-size="4.8" font-weight="bold" text-anchor="end" textLength="10.40" lengthAdjust="spacingAndGlyphs" fill="#222" stroke="#222" stroke-width="0.22">2000</text>
<line x1="146.30" y1="256.73" x2="148.30" y2="256.73" stroke="#222" stroke-width="0.8"/>
<text x="145.90" y="258.45" font-size="4.8" font-weight="bold" text-anchor="end" textLength="10.40" lengthAdjust="spacingAndGlyphs" fill="#222" stroke="#222" stroke-width="0.22">2500</text>
<line x1="146.30" y1="245.85" x2="148.30" y2="245.85" stroke="#222" stroke-width="0.8"/>
<text x="145.90" y="247.58" font-size="4.8" font-weight="bold" text-anchor="end" textLength="10.40" lengthAdjust="spacingAndGlyphs" fill="#222" stroke="#222" stroke-width="0.22">3000</text>
<line x1="154.30" y1="311.10" x2="154.30" y2="313.10" stroke="#222" stroke-width="0.8"/>
<text x="154.30" y="317.90" font-size="5.0" font-weight="bold" text-anchor="middle" fill="#222" stroke="#222" stroke-width="0.22">30</text>
<line x1="165.90" y1="311.10" x2="165.90" y2="313.10" stroke="#222" stroke-width="0.8"/>
<text x="165.90" y="317.90" font-size="5.0" font-weight="bold" text-anchor="middle" fill="#222" stroke="#222" stroke-width="0.22">33</text>
<line x1="177.50" y1="311.10" x2="177.50" y2="313.10" stroke="#222" stroke-width="0.8"/>
<text x="177.50" y="317.90" font-size="5.0" font-weight="bold" text-anchor="middle" fill="#222" stroke="#222" stroke-width="0.22">37</text>
<line x1="189.10" y1="311.10" x2="189.10" y2="313.10" stroke="#222" stroke-width="0.8"/>
<text x="189.10" y="317.90" font-size="5.0" font-weight="bold" text-anchor="middle" fill="#222" stroke="#222" stroke-width="0.22">40</text>
<line x1="200.70" y1="311.10" x2="200.70" y2="313.10" stroke="#222" stroke-width="0.8"/>
<text x="200.70" y="317.90" font-size="5.0" font-weight="bold" text-anchor="middle" fill="#222" stroke="#222" stroke-width="0.22">44</text>
<line x1="212.30" y1="311.10" x2="212.30" y2="313.10" stroke="#222" stroke-width="0.8"/>
<text x="212.30" y="317.90" font-size="5.0" font-weight="bold" text-anchor="middle" fill="#222" stroke="#222" stroke-width="0.22">48</text>
<line x1="223.90" y1="311.10" x2="223.90" y2="313.10" stroke="#222" stroke-width="0.8"/>
<text x="223.90" y="317.90" font-size="5.0" font-weight="bold" text-anchor="middle" fill="#222" stroke="#222" stroke-width="0.22">52</text>
<line x1="235.50" y1="311.10" x2="235.50" y2="313.10" stroke="#222" stroke-width="0.8"/>
<text x="235.50" y="317.90" font-size="5.0" font-weight="bold" text-anchor="middle" fill="#222" stroke="#222" stroke-width="0.22">55</text>
<line x1="154.30" y1="294.14" x2="154.30" y2="297.62" stroke="#666" stroke-width="0.9"/>
<line x1="152.50" y1="294.14" x2="156.10" y2="294.14" stroke="#666" stroke-width="0.9"/>
<line x1="152.50" y1="297.62" x2="156.10" y2="297.62" stroke="#666" stroke-width="0.9"/>
<line x1="165.90" y1="290.22" x2="165.90" y2="294.14" stroke="#666" stroke-width="0.9"/>
<line x1="164.10" y1="290.22" x2="167.70" y2="290.22" stroke="#666" stroke-width="0.9"/>
<line x1="164.10" y1="294.14" x2="167.70" y2="294.14" stroke="#666" stroke-width="0.9"/>
<line x1="177.50" y1="294.57" x2="177.50" y2="299.79" stroke="#666" stroke-width="0.9"/>
<line x1="175.70" y1="294.57" x2="179.30" y2="294.57" stroke="#666" stroke-width="0.9"/>
<line x1="175.70" y1="299.79" x2="179.30" y2="299.79" stroke="#666" stroke-width="0.9"/>
<line x1="189.10" y1="301.10" x2="189.10" y2="305.01" stroke="#666" stroke-width="0.9"/>
<line x1="187.30" y1="301.10" x2="190.90" y2="301.10" stroke="#666" stroke-width="0.9"/>
<line x1="187.30" y1="305.01" x2="190.90" y2="305.01" stroke="#666" stroke-width="0.9"/>
<line x1="200.70" y1="305.88" x2="200.70" y2="308.49" stroke="#666" stroke-width="0.9"/>
<line x1="198.90" y1="305.88" x2="202.50" y2="305.88" stroke="#666" stroke-width="0.9"/>
<line x1="198.90" y1="308.49" x2="202.50" y2="308.49" stroke="#666" stroke-width="0.9"/>
<line x1="212.30" y1="307.84" x2="212.30" y2="309.80" stroke="#666" stroke-width="0.9"/>
<line x1="210.50" y1="307.84" x2="214.10" y2="307.84" stroke="#666" stroke-width="0.9"/>
<line x1="210.50" y1="309.80" x2="214.10" y2="309.80" stroke="#666" stroke-width="0.9"/>
<line x1="223.90" y1="308.06" x2="223.90" y2="309.80" stroke="#666" stroke-width="0.9"/>
<line x1="222.10" y1="308.06" x2="225.70" y2="308.06" stroke="#666" stroke-width="0.9"/>
<line x1="222.10" y1="309.80" x2="225.70" y2="309.80" stroke="#666" stroke-width="0.9"/>
<line x1="235.50" y1="308.49" x2="235.50" y2="309.80" stroke="#666" stroke-width="0.9"/>
<line x1="233.70" y1="308.49" x2="237.30" y2="308.49" stroke="#666" stroke-width="0.9"/>
<line x1="233.70" y1="309.80" x2="237.30" y2="309.80" stroke="#666" stroke-width="0.9"/>
<polyline points="154.30,295.88 165.90,292.18 177.50,297.25 189.10,303.12 200.70,307.21 212.30,308.82 223.90,308.93 235.50,309.14" fill="none" stroke="#666" stroke-width="1.0"/>
<path d="M154.30,294.61 L155.68,296.91 L152.92,296.91Z" fill="#666"/>
<path d="M165.90,290.91 L167.28,293.21 L164.52,293.21Z" fill="#666"/>
<path d="M177.50,295.98 L178.88,298.28 L176.12,298.28Z" fill="#666"/>
<path d="M189.10,301.85 L190.48,304.15 L187.72,304.15Z" fill="#666"/>
<path d="M200.70,305.94 L202.08,308.24 L199.32,308.24Z" fill="#666"/>
<path d="M212.30,307.55 L213.68,309.85 L210.92,309.85Z" fill="#666"/>
<path d="M223.90,307.66 L225.28,309.96 L222.52,309.96Z" fill="#666"/>
<path d="M235.50,307.88 L236.88,310.18 L234.12,310.18Z" fill="#666"/>
<line x1="154.30" y1="294.14" x2="154.30" y2="297.62" stroke="#464646" stroke-width="0.9"/>
<line x1="152.50" y1="294.14" x2="156.10" y2="294.14" stroke="#464646" stroke-width="0.9"/>
<line x1="152.50" y1="297.62" x2="156.10" y2="297.62" stroke="#464646" stroke-width="0.9"/>
<line x1="165.90" y1="289.35" x2="165.90" y2="293.70" stroke="#464646" stroke-width="0.9"/>
<line x1="164.10" y1="289.35" x2="167.70" y2="289.35" stroke="#464646" stroke-width="0.9"/>
<line x1="164.10" y1="293.70" x2="167.70" y2="293.70" stroke="#464646" stroke-width="0.9"/>
<line x1="177.50" y1="288.48" x2="177.50" y2="294.57" stroke="#464646" stroke-width="0.9"/>
<line x1="175.70" y1="288.48" x2="179.30" y2="288.48" stroke="#464646" stroke-width="0.9"/>
<line x1="175.70" y1="294.57" x2="179.30" y2="294.57" stroke="#464646" stroke-width="0.9"/>
<line x1="189.10" y1="291.53" x2="189.10" y2="304.14" stroke="#464646" stroke-width="0.9"/>
<line x1="187.30" y1="291.53" x2="190.90" y2="291.53" stroke="#464646" stroke-width="0.9"/>
<line x1="187.30" y1="304.14" x2="190.90" y2="304.14" stroke="#464646" stroke-width="0.9"/>
<line x1="200.70" y1="293.48" x2="200.70" y2="304.58" stroke="#464646" stroke-width="0.9"/>
<line x1="198.90" y1="293.48" x2="202.50" y2="293.48" stroke="#464646" stroke-width="0.9"/>
<line x1="198.90" y1="304.58" x2="202.50" y2="304.58" stroke="#464646" stroke-width="0.9"/>
<line x1="212.30" y1="284.57" x2="212.30" y2="305.66" stroke="#464646" stroke-width="0.9"/>
<line x1="210.50" y1="284.57" x2="214.10" y2="284.57" stroke="#464646" stroke-width="0.9"/>
<line x1="210.50" y1="305.66" x2="214.10" y2="305.66" stroke="#464646" stroke-width="0.9"/>
<line x1="223.90" y1="282.00" x2="223.90" y2="306.31" stroke="#464646" stroke-width="0.9"/>
<line x1="222.10" y1="282.00" x2="225.70" y2="282.00" stroke="#464646" stroke-width="0.9"/>
<line x1="222.10" y1="306.31" x2="225.70" y2="306.31" stroke="#464646" stroke-width="0.9"/>
<line x1="235.50" y1="282.00" x2="235.50" y2="305.66" stroke="#464646" stroke-width="0.9"/>
<line x1="233.70" y1="282.00" x2="237.30" y2="282.00" stroke="#464646" stroke-width="0.9"/>
<line x1="233.70" y1="305.66" x2="237.30" y2="305.66" stroke="#464646" stroke-width="0.9"/>
<polyline points="154.30,295.88 165.90,291.53 177.50,291.53 189.10,297.72 200.70,299.03 212.30,295.64 223.90,293.66 235.50,293.66" fill="none" stroke="#464646" stroke-width="1.0"/>
<rect x="153.15" y="294.73" width="2.30" height="2.30" fill="#464646" stroke="none" stroke-width="0"/>
<rect x="164.75" y="290.38" width="2.30" height="2.30" fill="#464646" stroke="none" stroke-width="0"/>
<rect x="176.35" y="290.38" width="2.30" height="2.30" fill="#464646" stroke="none" stroke-width="0"/>
<rect x="187.95" y="296.57" width="2.30" height="2.30" fill="#464646" stroke="none" stroke-width="0"/>
<rect x="199.55" y="297.88" width="2.30" height="2.30" fill="#464646" stroke="none" stroke-width="0"/>
<rect x="211.15" y="294.49" width="2.30" height="2.30" fill="#464646" stroke="none" stroke-width="0"/>
<rect x="222.75" y="292.51" width="2.30" height="2.30" fill="#464646" stroke="none" stroke-width="0"/>
<rect x="234.35" y="292.51" width="2.30" height="2.30" fill="#464646" stroke="none" stroke-width="0"/>
<line x1="154.30" y1="294.14" x2="154.30" y2="297.62" stroke="#1a1a1a" stroke-width="0.9"/>
<line x1="152.50" y1="294.14" x2="156.10" y2="294.14" stroke="#1a1a1a" stroke-width="0.9"/>
<line x1="152.50" y1="297.62" x2="156.10" y2="297.62" stroke="#1a1a1a" stroke-width="0.9"/>
<line x1="165.90" y1="283.26" x2="165.90" y2="293.27" stroke="#1a1a1a" stroke-width="0.9"/>
<line x1="164.10" y1="283.26" x2="167.70" y2="283.26" stroke="#1a1a1a" stroke-width="0.9"/>
<line x1="164.10" y1="293.27" x2="167.70" y2="293.27" stroke="#1a1a1a" stroke-width="0.9"/>
<line x1="177.50" y1="281.30" x2="177.50" y2="289.35" stroke="#1a1a1a" stroke-width="0.9"/>
<line x1="175.70" y1="281.30" x2="179.30" y2="281.30" stroke="#1a1a1a" stroke-width="0.9"/>
<line x1="175.70" y1="289.35" x2="179.30" y2="289.35" stroke="#1a1a1a" stroke-width="0.9"/>
<line x1="189.10" y1="275.43" x2="189.10" y2="283.48" stroke="#1a1a1a" stroke-width="0.9"/>
<line x1="187.30" y1="275.43" x2="190.90" y2="275.43" stroke="#1a1a1a" stroke-width="0.9"/>
<line x1="187.30" y1="283.48" x2="190.90" y2="283.48" stroke="#1a1a1a" stroke-width="0.9"/>
<line x1="200.70" y1="267.17" x2="200.70" y2="282.17" stroke="#1a1a1a" stroke-width="0.9"/>
<line x1="198.90" y1="267.17" x2="202.50" y2="267.17" stroke="#1a1a1a" stroke-width="0.9"/>
<line x1="198.90" y1="282.17" x2="202.50" y2="282.17" stroke="#1a1a1a" stroke-width="0.9"/>
<line x1="212.30" y1="271.99" x2="212.30" y2="271.99" stroke="#1a1a1a" stroke-width="0.9"/>
<line x1="210.50" y1="271.99" x2="214.10" y2="271.99" stroke="#1a1a1a" stroke-width="0.9"/>
<line x1="210.50" y1="271.99" x2="214.10" y2="271.99" stroke="#1a1a1a" stroke-width="0.9"/>
<line x1="223.90" y1="262.82" x2="223.90" y2="267.60" stroke="#1a1a1a" stroke-width="0.9"/>
<line x1="222.10" y1="262.82" x2="225.70" y2="262.82" stroke="#1a1a1a" stroke-width="0.9"/>
<line x1="222.10" y1="267.60" x2="225.70" y2="267.60" stroke="#1a1a1a" stroke-width="0.9"/>
<line x1="235.50" y1="259.92" x2="235.50" y2="259.92" stroke="#1a1a1a" stroke-width="0.9"/>
<line x1="233.70" y1="259.92" x2="237.30" y2="259.92" stroke="#1a1a1a" stroke-width="0.9"/>
<line x1="233.70" y1="259.92" x2="237.30" y2="259.92" stroke="#1a1a1a" stroke-width="0.9"/>
<polyline points="154.30,295.88 165.90,288.26 177.50,285.37 189.10,279.48 200.70,274.69 212.30,271.99 223.90,265.21 235.50,259.92" fill="none" stroke="#1a1a1a" stroke-width="1.2"/>
<circle cx="154.30" cy="295.88" r="1.15" fill="#1a1a1a"/>
<circle cx="165.90" cy="288.26" r="1.15" fill="#1a1a1a"/>
<circle cx="177.50" cy="285.37" r="1.15" fill="#1a1a1a"/>
<circle cx="189.10" cy="279.48" r="1.15" fill="#1a1a1a"/>
<circle cx="200.70" cy="274.69" r="1.15" fill="#1a1a1a"/>
<circle cx="212.30" cy="271.99" r="1.15" fill="#1a1a1a"/>
<circle cx="223.90" cy="265.21" r="1.15" fill="#1a1a1a"/>
<circle cx="235.50" cy="259.92" r="1.15" fill="#1a1a1a"/>
<text x="150.40" y="327.30" font-size="6.0" font-weight="bold" textLength="94.70" lengthAdjust="spacingAndGlyphs" fill="#111" stroke="#111" stroke-width="0.35">Days after tumor cells incubation</text>
<text transform="translate(132.3 308.6) rotate(-90)" font-size="6.3" font-weight="bold" fill="#111" textLength="60.4" lengthAdjust="spacingAndGlyphs">Tumor volume(mm<tspan font-size="4" dy="-2.3">3</tspan><tspan dy="2.3">)</tspan></text>
<line x1="154.30" y1="282.00" x2="154.30" y2="289.60" stroke="#777" stroke-width="1.0"/>
<path d="M152.2,287.2 L154.3,291.0 L156.4,287.2 Z" fill="#777"/>
<polyline points="241.4,259.8 243.0,259.8 243.0,293.1 241.4,293.1" fill="none" stroke="#aaa" stroke-width="1.2"/>
<text x="244.00" y="281.10" font-size="6.0" textLength="6.50" lengthAdjust="spacingAndGlyphs" fill="#333" stroke="#333" stroke-width="0.15">***</text>
<polyline points="249.5,259.8 251.2,259.8 251.2,309.3 249.5,309.3" fill="none" stroke="#aaa" stroke-width="1.2"/>
<text x="251.80" y="285.60" font-size="6.0" textLength="6.10" lengthAdjust="spacingAndGlyphs" fill="#555" stroke="#555" stroke-width="0.2">***</text>
<line x1="266.90" y1="251.20" x2="273.50" y2="251.20" stroke="#1a1a1a" stroke-width="1.1"/>
<circle cx="270.20" cy="251.20" r="1.40" fill="#1a1a1a"/>
<text x="277.70" y="253.40" font-size="6.1" fill="#222" stroke="#222" stroke-width="0.3">UTD</text>
<line x1="266.90" y1="258.60" x2="273.50" y2="258.60" stroke="#3a3a3a" stroke-width="1.1"/>
<rect x="268.80" y="257.20" width="2.80" height="2.80" fill="#3a3a3a" stroke="none" stroke-width="0"/>
<text x="277.70" y="260.80" font-size="6.1" fill="#222" stroke="#222" stroke-width="0.3">GPC3-28Z</text>
<line x1="266.90" y1="266.10" x2="273.50" y2="266.10" stroke="#5a5a5a" stroke-width="1.1"/>
<path d="M270.20,264.56 L271.88,267.36 L268.52,267.36Z" fill="#5a5a5a"/>
<text x="277.70" y="268.30" font-size="6.1" textLength="60.00" lengthAdjust="spacingAndGlyphs" fill="#222" stroke="#222" stroke-width="0.3">GPC3-28Z-NFAT-IL12</text>
<line x1="273.00" y1="300.40" x2="273.00" y2="306.50" stroke="#333" stroke-width="1.0"/>
<path d="M271.4,305.0 L273.0,308.7 L274.6,305.0 Z" fill="#333"/>
<text x="275.70" y="307.20" font-size="5.9" textLength="41.30" lengthAdjust="spacingAndGlyphs" fill="#222" stroke="#222" stroke-width="0.3">CAR-T injection</text>
<text x="347.00" y="243.20" font-size="11.6" fill="#1a1a1a" stroke="#1a1a1a" stroke-width="0.45">F</text>
<text x="420.30" y="241.60" font-size="8.8" font-weight="bold" textLength="22.00" lengthAdjust="spacingAndGlyphs" fill="#111" stroke="#111" stroke-width="0.3">Huh-7</text>
<line x1="404.50" y1="249.50" x2="404.50" y2="311.00" stroke="#222" stroke-width="1.0"/>
<line x1="404.00" y1="310.50" x2="504.00" y2="310.50" stroke="#222" stroke-width="1.0"/>
<line x1="404.50" y1="310.90" x2="404.50" y2="312.90" stroke="#222" stroke-width="0.8"/>
<text x="404.50" y="317.30" font-size="5.0" font-weight="bold" text-anchor="middle" fill="#222" stroke="#222" stroke-width="0.22">0.0</text>
<line x1="429.30" y1="310.90" x2="429.30" y2="312.90" stroke="#222" stroke-width="0.8"/>
<text x="429.30" y="317.30" font-size="5.0" font-weight="bold" text-anchor="middle" fill="#222" stroke="#222" stroke-width="0.22">0.5</text>
<line x1="454.10" y1="310.90" x2="454.10" y2="312.90" stroke="#222" stroke-width="0.8"/>
<text x="454.10" y="317.30" font-size="5.0" font-weight="bold" text-anchor="middle" fill="#222" stroke="#222" stroke-width="0.22">1.0</text>
<line x1="478.90" y1="310.90" x2="478.90" y2="312.90" stroke="#222" stroke-width="0.8"/>
<text x="478.90" y="317.30" font-size="5.0" font-weight="bold" text-anchor="middle" fill="#222" stroke="#222" stroke-width="0.22">1.5</text>
<line x1="503.70" y1="310.90" x2="503.70" y2="312.90" stroke="#222" stroke-width="0.8"/>
<text x="503.70" y="317.30" font-size="5.0" font-weight="bold" text-anchor="middle" fill="#222" stroke="#222" stroke-width="0.22">2.0</text>
<line x1="406.48" y1="260.10" x2="407.48" y2="260.10" stroke="#333" stroke-width="1.0"/>
<line x1="407.48" y1="254.10" x2="407.48" y2="266.10" stroke="#333" stroke-width="1.0"/>
<rect x="404.50" y="253.60" width="1.98" height="13.00" fill="#e0e0e0" stroke="#666" stroke-width="0.9"/>
<line x1="402.50" y1="260.10" x2="404.50" y2="260.10" stroke="#222" stroke-width="0.8"/>
<text x="400.30" y="262.19" font-size="5.8" font-weight="bold" text-anchor="end" textLength="54.40" lengthAdjust="spacingAndGlyphs" fill="#111" stroke="#111" stroke-width="0.35">GPC3-28Z-NFAT-IL12</text>
<line x1="439.57" y1="280.35" x2="459.85" y2="280.35" stroke="#333" stroke-width="1.0"/>
<line x1="459.85" y1="275.75" x2="459.85" y2="284.95" stroke="#333" stroke-width="1.0"/>
<rect x="404.50" y="273.40" width="35.07" height="13.90" fill="url(#hx)" stroke="#444" stroke-width="0.9"/>
<line x1="402.50" y1="280.35" x2="404.50" y2="280.35" stroke="#222" stroke-width="0.8"/>
<text x="400.30" y="282.44" font-size="5.8" font-weight="bold" text-anchor="end" fill="#111" stroke="#111" stroke-width="0.35">GPC3-28Z</text>
<line x1="491.50" y1="300.45" x2="495.27" y2="300.45" stroke="#333" stroke-width="1.0"/>
<line x1="495.27" y1="296.85" x2="495.27" y2="304.05" stroke="#333" stroke-width="1.0"/>
<rect x="404.50" y="293.60" width="87.00" height="13.70" fill="url(#vs)" stroke="#222" stroke-width="1.3"/>
<line x1="402.50" y1="300.45" x2="404.50" y2="300.45" stroke="#222" stroke-width="0.8"/>
<text x="400.30" y="302.54" font-size="5.8" font-weight="bold" text-anchor="end" fill="#111" stroke="#111" stroke-width="0.35">UTD</text>
<text x="424.70" y="324.60" font-size="6.4" font-weight="bold" textLength="51.50" lengthAdjust="spacingAndGlyphs" fill="#111" stroke="#111" stroke-width="0.35">Tumor weight (g)</text>
<line x1="499.50" y1="281.40" x2="499.50" y2="302.20" stroke="#888" stroke-width="0.9"/>
<line x1="497.90" y1="281.40" x2="501.10" y2="281.40" stroke="#888" stroke-width="0.9"/>
<line x1="497.90" y1="302.20" x2="501.10" y2="302.20" stroke="#888" stroke-width="0.9"/>
<text x="500.50" y="294.00" font-size="5.8" fill="#222" stroke="#222" stroke-width="0.15">*</text>
<line x1="509.00" y1="259.90" x2="509.00" y2="302.50" stroke="#888" stroke-width="0.9"/>
<line x1="507.10" y1="259.90" x2="510.90" y2="259.90" stroke="#888" stroke-width="0.9"/>
<line x1="507.10" y1="302.50" x2="510.90" y2="302.50" stroke="#888" stroke-width="0.9"/>
<text x="511.80" y="283.20" font-size="5.8" textLength="4.30" lengthAdjust="spacingAndGlyphs" fill="#222" stroke="#222" stroke-width="0.15">**</text>
<text x="1.00" y="355.70" font-size="12.0" fill="#1a1a1a" stroke="#1a1a1a" stroke-width="0.45">G</text>
<text x="78.30" y="359.80" font-size="8.6" font-weight="bold" textLength="20.70" lengthAdjust="spacingAndGlyphs" fill="#111" stroke="#111" stroke-width="0.3">Huh-7</text>
<line x1="42.50" y1="367.60" x2="42.50" y2="431.00" stroke="#222" stroke-width="1.0"/>
<line x1="42.00" y1="430.50" x2="131.00" y2="430.50" stroke="#222" stroke-width="1.0"/>
<line x1="40.20" y1="430.80" x2="42.20" y2="430.80" stroke="#222" stroke-width="0.8"/>
<text x="39.80" y="432.46" font-size="4.6" font-weight="bold" text-anchor="end" textLength="5.00" lengthAdjust="spacingAndGlyphs" fill="#222" stroke="#222" stroke-width="0.22">80</text>
<line x1="40.20" y1="415.00" x2="42.20" y2="415.00" stroke="#222" stroke-width="0.8"/>
<text x="39.80" y="416.66" font-size="4.6" font-weight="bold" text-anchor="end" textLength="5.00" lengthAdjust="spacingAndGlyphs" fill="#222" stroke="#222" stroke-width="0.22">90</text>
<line x1="40.20" y1="399.20" x2="42.20" y2="399.20" stroke="#222" stroke-width="0.8"/>
<text x="39.80" y="400.86" font-size="4.6" font-weight="bold" text-anchor="end" textLength="7.50" lengthAdjust="spacingAndGlyphs" fill="#222" stroke="#222" stroke-width="0.22">100</text>
<line x1="40.20" y1="383.40" x2="42.20" y2="383.40" stroke="#222" stroke-width="0.8"/>
<text x="39.80" y="385.06" font-size="4.6" font-weight="bold" text-anchor="end" textLength="7.50" lengthAdjust="spacingAndGlyphs" fill="#222" stroke="#222" stroke-width="0.22">110</text>
<line x1="40.20" y1="367.60" x2="42.20" y2="367.60" stroke="#222" stroke-width="0.8"/>
<text x="39.80" y="369.26" font-size="4.6" font-weight="bold" text-anchor="end" textLength="7.50" lengthAdjust="spacingAndGlyphs" fill="#222" stroke="#222" stroke-width="0.22">120</text>
<line x1="49.20" y1="430.80" x2="49.20" y2="432.80" stroke="#222" stroke-width="0.8"/>
<text x="49.20" y="438.50" font-size="4.9" font-weight="bold" text-anchor="middle" fill="#222" stroke="#222" stroke-width="0.22">30</text>
<line x1="60.53" y1="430.80" x2="60.53" y2="432.80" stroke="#222" stroke-width="0.8"/>
<text x="60.53" y="438.50" font-size="4.9" font-weight="bold" text-anchor="middle" fill="#222" stroke="#222" stroke-width="0.22">33</text>
<line x1="71.86" y1="430.80" x2="71.86" y2="432.80" stroke="#222" stroke-width="0.8"/>
<text x="71.86" y="438.50" font-size="4.9" font-weight="bold" text-anchor="middle" fill="#222" stroke="#222" stroke-width="0.22">37</text>
<line x1="83.19" y1="430.80" x2="83.19" y2="432.80" stroke="#222" stroke-width="0.8"/>
<text x="83.19" y="438.50" font-size="4.9" font-weight="bold" text-anchor="middle" fill="#222" stroke="#222" stroke-width="0.22">40</text>
<line x1="94.52" y1="430.80" x2="94.52" y2="432.80" stroke="#222" stroke-width="0.8"/>
<text x="94.52" y="438.50" font-size="4.9" font-weight="bold" text-anchor="middle" fill="#222" stroke="#222" stroke-width="0.22">44</text>
<line x1="105.85" y1="430.80" x2="105.85" y2="432.80" stroke="#222" stroke-width="0.8"/>
<text x="105.85" y="438.50" font-size="4.9" font-weight="bold" text-anchor="middle" fill="#222" stroke="#222" stroke-width="0.22">48</text>
<line x1="117.18" y1="430.80" x2="117.18" y2="432.80" stroke="#222" stroke-width="0.8"/>
<text x="117.18" y="438.50" font-size="4.9" font-weight="bold" text-anchor="middle" fill="#222" stroke="#222" stroke-width="0.22">52</text>
<line x1="128.51" y1="430.80" x2="128.51" y2="432.80" stroke="#222" stroke-width="0.8"/>
<text x="128.51" y="438.50" font-size="4.9" font-weight="bold" text-anchor="middle" fill="#222" stroke="#222" stroke-width="0.22">55</text>
<line x1="60.53" y1="392.88" x2="60.53" y2="400.78" stroke="#666" stroke-width="0.9"/>
<line x1="58.73" y1="392.88" x2="62.33" y2="392.88" stroke="#666" stroke-width="0.9"/>
<line x1="58.73" y1="400.78" x2="62.33" y2="400.78" stroke="#666" stroke-width="0.9"/>
<line x1="71.86" y1="391.30" x2="71.86" y2="399.99" stroke="#666" stroke-width="0.9"/>
<line x1="70.06" y1="391.30" x2="73.66" y2="391.30" stroke="#666" stroke-width="0.9"/>
<line x1="70.06" y1="399.99" x2="73.66" y2="399.99" stroke="#666" stroke-width="0.9"/>
<line x1="83.19" y1="392.09" x2="83.19" y2="399.99" stroke="#666" stroke-width="0.9"/>
<line x1="81.39" y1="392.09" x2="84.99" y2="392.09" stroke="#666" stroke-width="0.9"/>
<line x1="81.39" y1="399.99" x2="84.99" y2="399.99" stroke="#666" stroke-width="0.9"/>
<line x1="94.52" y1="387.35" x2="94.52" y2="397.62" stroke="#666" stroke-width="0.9"/>
<line x1="92.72" y1="387.35" x2="96.32" y2="387.35" stroke="#666" stroke-width="0.9"/>
<line x1="92.72" y1="397.62" x2="96.32" y2="397.62" stroke="#666" stroke-width="0.9"/>
<line x1="105.85" y1="387.35" x2="105.85" y2="396.83" stroke="#666" stroke-width="0.9"/>
<line x1="104.05" y1="387.35" x2="107.65" y2="387.35" stroke="#666" stroke-width="0.9"/>
<line x1="104.05" y1="396.83" x2="107.65" y2="396.83" stroke="#666" stroke-width="0.9"/>
<line x1="117.18" y1="384.98" x2="117.18" y2="396.83" stroke="#666" stroke-width="0.9"/>
<line x1="115.38" y1="384.98" x2="118.98" y2="384.98" stroke="#666" stroke-width="0.9"/>
<line x1="115.38" y1="396.83" x2="118.98" y2="396.83" stroke="#666" stroke-width="0.9"/>
<line x1="128.51" y1="386.56" x2="128.51" y2="397.62" stroke="#666" stroke-width="0.9"/>
<line x1="126.71" y1="386.56" x2="130.31" y2="386.56" stroke="#666" stroke-width="0.9"/>
<line x1="126.71" y1="397.62" x2="130.31" y2="397.62" stroke="#666" stroke-width="0.9"/>
<polyline points="49.20,399.20 60.53,396.99 71.86,396.04 83.19,396.04 94.52,392.25 105.85,392.25 117.18,390.98 128.51,391.93" fill="none" stroke="#666" stroke-width="1.0"/>
<path d="M49.20,397.99 L50.52,400.19 L47.88,400.19Z" fill="#666"/>
<path d="M60.53,395.78 L61.85,397.98 L59.21,397.98Z" fill="#666"/>
<path d="M71.86,394.83 L73.18,397.03 L70.54,397.03Z" fill="#666"/>
<path d="M83.19,394.83 L84.51,397.03 L81.87,397.03Z" fill="#666"/>
<path d="M94.52,391.04 L95.84,393.24 L93.20,393.24Z" fill="#666"/>
<path d="M105.85,391.04 L107.17,393.24 L104.53,393.24Z" fill="#666"/>
<path d="M117.18,389.77 L118.50,391.97 L115.86,391.97Z" fill="#666"/>
<path d="M128.51,390.72 L129.83,392.92 L127.19,392.92Z" fill="#666"/>
<line x1="60.53" y1="390.51" x2="60.53" y2="399.20" stroke="#464646" stroke-width="0.9"/>
<line x1="58.73" y1="390.51" x2="62.33" y2="390.51" stroke="#464646" stroke-width="0.9"/>
<line x1="58.73" y1="399.20" x2="62.33" y2="399.20" stroke="#464646" stroke-width="0.9"/>
<line x1="71.86" y1="389.72" x2="71.86" y2="398.41" stroke="#464646" stroke-width="0.9"/>
<line x1="70.06" y1="389.72" x2="73.66" y2="389.72" stroke="#464646" stroke-width="0.9"/>
<line x1="70.06" y1="398.41" x2="73.66" y2="398.41" stroke="#464646" stroke-width="0.9"/>
<line x1="83.19" y1="390.51" x2="83.19" y2="398.41" stroke="#464646" stroke-width="0.9"/>
<line x1="81.39" y1="390.51" x2="84.99" y2="390.51" stroke="#464646" stroke-width="0.9"/>
<line x1="81.39" y1="398.41" x2="84.99" y2="398.41" stroke="#464646" stroke-width="0.9"/>
<line x1="94.52" y1="385.77" x2="94.52" y2="394.46" stroke="#464646" stroke-width="0.9"/>
<line x1="92.72" y1="385.77" x2="96.32" y2="385.77" stroke="#464646" stroke-width="0.9"/>
<line x1="92.72" y1="394.46" x2="96.32" y2="394.46" stroke="#464646" stroke-width="0.9"/>
<line x1="105.85" y1="385.77" x2="105.85" y2="393.67" stroke="#464646" stroke-width="0.9"/>
<line x1="104.05" y1="385.77" x2="107.65" y2="385.77" stroke="#464646" stroke-width="0.9"/>
<line x1="104.05" y1="393.67" x2="107.65" y2="393.67" stroke="#464646" stroke-width="0.9"/>
<line x1="117.18" y1="378.66" x2="117.18" y2="388.14" stroke="#464646" stroke-width="0.9"/>
<line x1="115.38" y1="378.66" x2="118.98" y2="378.66" stroke="#464646" stroke-width="0.9"/>
<line x1="115.38" y1="388.14" x2="118.98" y2="388.14" stroke="#464646" stroke-width="0.9"/>
<line x1="128.51" y1="378.66" x2="128.51" y2="388.14" stroke="#464646" stroke-width="0.9"/>
<line x1="126.71" y1="378.66" x2="130.31" y2="378.66" stroke="#464646" stroke-width="0.9"/>
<line x1="126.71" y1="388.14" x2="130.31" y2="388.14" stroke="#464646" stroke-width="0.9"/>
<polyline points="49.20,399.20 60.53,395.41 71.86,394.78 83.19,394.14 94.52,390.04 105.85,390.04 117.18,383.72 128.51,383.72" fill="none" stroke="#464646" stroke-width="1.0"/>
<rect x="48.10" y="398.10" width="2.20" height="2.20" fill="#464646" stroke="none" stroke-width="0"/>
<rect x="59.43" y="394.31" width="2.20" height="2.20" fill="#464646" stroke="none" stroke-width="0"/>
<rect x="70.76" y="393.68" width="2.20" height="2.20" fill="#464646" stroke="none" stroke-width="0"/>
<rect x="82.09" y="393.04" width="2.20" height="2.20" fill="#464646" stroke="none" stroke-width="0"/>
<rect x="93.42" y="388.94" width="2.20" height="2.20" fill="#464646" stroke="none" stroke-width="0"/>
<rect x="104.75" y="388.94" width="2.20" height="2.20" fill="#464646" stroke="none" stroke-width="0"/>
<rect x="116.08" y="382.62" width="2.20" height="2.20" fill="#464646" stroke="none" stroke-width="0"/>
<rect x="127.41" y="382.62" width="2.20" height="2.20" fill="#464646" stroke="none" stroke-width="0"/>
<line x1="60.53" y1="395.25" x2="60.53" y2="402.36" stroke="#1a1a1a" stroke-width="0.9"/>
<line x1="58.73" y1="395.25" x2="62.33" y2="395.25" stroke="#1a1a1a" stroke-width="0.9"/>
<line x1="58.73" y1="402.36" x2="62.33" y2="402.36" stroke="#1a1a1a" stroke-width="0.9"/>
<line x1="71.86" y1="394.46" x2="71.86" y2="401.57" stroke="#1a1a1a" stroke-width="0.9"/>
<line x1="70.06" y1="394.46" x2="73.66" y2="394.46" stroke="#1a1a1a" stroke-width="0.9"/>
<line x1="70.06" y1="401.57" x2="73.66" y2="401.57" stroke="#1a1a1a" stroke-width="0.9"/>
<line x1="83.19" y1="397.62" x2="83.19" y2="404.73" stroke="#1a1a1a" stroke-width="0.9"/>
<line x1="81.39" y1="397.62" x2="84.99" y2="397.62" stroke="#1a1a1a" stroke-width="0.9"/>
<line x1="81.39" y1="404.73" x2="84.99" y2="404.73" stroke="#1a1a1a" stroke-width="0.9"/>
<line x1="94.52" y1="397.62" x2="94.52" y2="407.42" stroke="#1a1a1a" stroke-width="0.9"/>
<line x1="92.72" y1="397.62" x2="96.32" y2="397.62" stroke="#1a1a1a" stroke-width="0.9"/>
<line x1="92.72" y1="407.42" x2="96.32" y2="407.42" stroke="#1a1a1a" stroke-width="0.9"/>
<line x1="105.85" y1="396.04" x2="105.85" y2="402.36" stroke="#1a1a1a" stroke-width="0.9"/>
<line x1="104.05" y1="396.04" x2="107.65" y2="396.04" stroke="#1a1a1a" stroke-width="0.9"/>
<line x1="104.05" y1="402.36" x2="107.65" y2="402.36" stroke="#1a1a1a" stroke-width="0.9"/>
<line x1="117.18" y1="396.83" x2="117.18" y2="406.78" stroke="#1a1a1a" stroke-width="0.9"/>
<line x1="115.38" y1="396.83" x2="118.98" y2="396.83" stroke="#1a1a1a" stroke-width="0.9"/>
<line x1="115.38" y1="406.78" x2="118.98" y2="406.78" stroke="#1a1a1a" stroke-width="0.9"/>
<line x1="128.51" y1="396.83" x2="128.51" y2="406.78" stroke="#1a1a1a" stroke-width="0.9"/>
<line x1="126.71" y1="396.83" x2="130.31" y2="396.83" stroke="#1a1a1a" stroke-width="0.9"/>
<line x1="126.71" y1="406.78" x2="130.31" y2="406.78" stroke="#1a1a1a" stroke-width="0.9"/>
<polyline points="49.20,399.20 60.53,398.88 71.86,397.94 83.19,401.73 94.52,402.68 105.85,399.20 117.18,401.73 128.51,401.73" fill="none" stroke="#1a1a1a" stroke-width="1.2"/>
<circle cx="49.20" cy="399.20" r="1.10" fill="#1a1a1a"/>
<circle cx="60.53" cy="398.88" r="1.10" fill="#1a1a1a"/>
<circle cx="71.86" cy="397.94" r="1.10" fill="#1a1a1a"/>
<circle cx="83.19" cy="401.73" r="1.10" fill="#1a1a1a"/>
<circle cx="94.52" cy="402.68" r="1.10" fill="#1a1a1a"/>
<circle cx="105.85" cy="399.20" r="1.10" fill="#1a1a1a"/>
<circle cx="117.18" cy="401.73" r="1.10" fill="#1a1a1a"/>
<circle cx="128.51" cy="401.73" r="1.10" fill="#1a1a1a"/>
<text x="44.90" y="447.00" font-size="5.9" font-weight="bold" textLength="86.80" lengthAdjust="spacingAndGlyphs" fill="#111" stroke="#111" stroke-width="0.35">Days after tumor cells injection</text>
<text transform="translate(29.40 420.80) rotate(-90)" font-size="6.1" font-weight="bold" fill="#111" stroke="#111" stroke-width="0.3" textLength="43.40" lengthAdjust="spacingAndGlyphs">% Body weight</text>
<line x1="145.80" y1="373.10" x2="150.60" y2="373.10" stroke="#1a1a1a" stroke-width="1.1"/>
<circle cx="148.20" cy="373.10" r="1.40" fill="#1a1a1a"/>
<text x="156.30" y="375.19" font-size="5.8" fill="#222" stroke="#222" stroke-width="0.3">UTD</text>
<line x1="145.80" y1="379.90" x2="150.60" y2="379.90" stroke="#3a3a3a" stroke-width="1.1"/>
<rect x="146.80" y="378.50" width="2.80" height="2.80" fill="#3a3a3a" stroke="none" stroke-width="0"/>
<text x="156.30" y="381.99" font-size="5.8" fill="#222" stroke="#222" stroke-width="0.3">GPC3-28Z</text>
<line x1="145.80" y1="387.30" x2="150.60" y2="387.30" stroke="#5a5a5a" stroke-width="1.1"/>
<path d="M148.20,385.76 L149.88,388.56 L146.52,388.56Z" fill="#5a5a5a"/>
<text x="156.30" y="389.39" font-size="5.8" textLength="58.30" lengthAdjust="spacingAndGlyphs" fill="#222" stroke="#222" stroke-width="0.3">GPC3-28Z-NFAT-IL12</text>
<line x1="132.00" y1="384.40" x2="132.00" y2="392.00" stroke="#999" stroke-width="0.8"/>
<line x1="130.90" y1="384.40" x2="133.10" y2="384.40" stroke="#999" stroke-width="0.8"/>
<line x1="130.90" y1="392.00" x2="133.10" y2="392.00" stroke="#999" stroke-width="0.8"/>
<text x="133.40" y="389.70" font-size="4.5" textLength="3.70" lengthAdjust="spacingAndGlyphs" fill="#333" stroke="#333" stroke-width="0.3">ns</text>
<text x="246.80" y="355.80" font-size="12.0" fill="#1a1a1a" stroke="#1a1a1a" stroke-width="0.45">H</text>
<text x="305.20" y="361.70" font-size="8.4" font-weight="bold" textLength="19.40" lengthAdjust="spacingAndGlyphs" fill="#111" stroke="#111" stroke-width="0.3">Huh-7</text>
<line x1="272.50" y1="369.00" x2="272.50" y2="430.00" stroke="#222" stroke-width="1.0"/>
<line x1="272.00" y1="429.50" x2="357.00" y2="429.50" stroke="#222" stroke-width="1.0"/>
<line x1="270.20" y1="429.40" x2="272.20" y2="429.40" stroke="#222" stroke-width="0.8"/>
<text x="270.00" y="430.98" font-size="4.4" font-weight="bold" text-anchor="end" fill="#222" stroke="#222" stroke-width="0.22">0</text>
<line x1="270.20" y1="414.38" x2="272.20" y2="414.38" stroke="#222" stroke-width="0.8"/>
<text x="270.00" y="415.96" font-size="4.4" font-weight="bold" text-anchor="end" fill="#222" stroke="#222" stroke-width="0.22">200</text>
<line x1="270.20" y1="399.36" x2="272.20" y2="399.36" stroke="#222" stroke-width="0.8"/>
<text x="270.00" y="400.94" font-size="4.4" font-weight="bold" text-anchor="end" fill="#222" stroke="#222" stroke-width="0.22">400</text>
<line x1="270.20" y1="384.34" x2="272.20" y2="384.34" stroke="#222" stroke-width="0.8"/>
<text x="270.00" y="385.92" font-size="4.4" font-weight="bold" text-anchor="end" fill="#222" stroke="#222" stroke-width="0.22">600</text>
<line x1="270.20" y1="369.32" x2="272.20" y2="369.32" stroke="#222" stroke-width="0.8"/>
<text x="270.00" y="370.90" font-size="4.4" font-weight="bold" text-anchor="end" fill="#222" stroke="#222" stroke-width="0.22">800</text>
<rect x="277.00" y="429.40" width="20.00" height="0.00" fill="url(#dk)" stroke="#222" stroke-width="0.9"/>
<line x1="287.00" y1="429.40" x2="287.00" y2="431.20" stroke="#222" stroke-width="0.8"/>
<text x="287.00" y="436.00" font-size="4.8" font-weight="bold" text-anchor="middle" textLength="9.80" lengthAdjust="spacingAndGlyphs" fill="#222" stroke="#222" stroke-width="0.25">UTD</text>
<rect x="305.00" y="429.25" width="20.00" height="0.15" fill="url(#hx)" stroke="#444" stroke-width="0.9"/>
<line x1="315.00" y1="429.40" x2="315.00" y2="431.20" stroke="#222" stroke-width="0.8"/>
<text x="315.00" y="436.00" font-size="4.8" font-weight="bold" text-anchor="middle" textLength="21.80" lengthAdjust="spacingAndGlyphs" fill="#222" stroke="#222" stroke-width="0.25">GPC3-28Z</text>
<line x1="343.25" y1="387.19" x2="343.25" y2="377.96" stroke="#333" stroke-width="1.0"/>
<line x1="338.75" y1="377.96" x2="347.75" y2="377.96" stroke="#333" stroke-width="1.0"/>
<rect x="333.30" y="387.19" width="19.90" height="42.21" fill="url(#hs)" stroke="#444" stroke-width="0.9"/>
<line x1="343.25" y1="429.40" x2="343.25" y2="431.20" stroke="#222" stroke-width="0.8"/>
<text x="331.70" y="436.00" font-size="4.8" font-weight="bold" textLength="47.70" lengthAdjust="spacingAndGlyphs" fill="#222" stroke="#222" stroke-width="0.25">GPC3-28Z-NFAT-IL12</text>
<line x1="316.50" y1="373.80" x2="342.80" y2="373.80" stroke="#999" stroke-width="1.0"/>
<line x1="316.50" y1="371.80" x2="316.50" y2="375.80" stroke="#777" stroke-width="0.9"/>
<line x1="342.80" y1="371.80" x2="342.80" y2="375.80" stroke="#777" stroke-width="0.9"/>
<text x="330.50" y="373.40" font-size="5.6" text-anchor="middle" textLength="5.40" lengthAdjust="spacingAndGlyphs" fill="#222" stroke="#222" stroke-width="0.15">***</text>
<text transform="translate(260.50 415.20) rotate(-90)" font-size="5.4" font-weight="bold" fill="#222" stroke="#222" stroke-width="0.25" textLength="32.00" lengthAdjust="spacingAndGlyphs">IFN-γ (pg/ml)</text>
<text x="427.30" y="361.70" font-size="8.4" font-weight="bold" textLength="19.40" lengthAdjust="spacingAndGlyphs" fill="#111" stroke="#111" stroke-width="0.3">Huh-7</text>
<line x1="394.50" y1="369.00" x2="394.50" y2="430.00" stroke="#222" stroke-width="1.0"/>
<line x1="394.00" y1="429.50" x2="479.60" y2="429.50" stroke="#222" stroke-width="1.0"/>
<line x1="392.80" y1="429.40" x2="394.80" y2="429.40" stroke="#222" stroke-width="0.8"/>
<text x="392.60" y="430.98" font-size="4.4" font-weight="bold" text-anchor="end" fill="#222" stroke="#222" stroke-width="0.22">0</text>
<line x1="392.80" y1="409.43" x2="394.80" y2="409.43" stroke="#222" stroke-width="0.8"/>
<text x="392.60" y="411.01" font-size="4.4" font-weight="bold" text-anchor="end" fill="#222" stroke="#222" stroke-width="0.22">10</text>
<line x1="392.80" y1="389.46" x2="394.80" y2="389.46" stroke="#222" stroke-width="0.8"/>
<text x="392.60" y="391.04" font-size="4.4" font-weight="bold" text-anchor="end" fill="#222" stroke="#222" stroke-width="0.22">20</text>
<line x1="392.80" y1="369.49" x2="394.80" y2="369.49" stroke="#222" stroke-width="0.8"/>
<text x="392.60" y="371.07" font-size="4.4" font-weight="bold" text-anchor="end" fill="#222" stroke="#222" stroke-width="0.22">30</text>
<line x1="408.90" y1="427.40" x2="408.90" y2="425.01" stroke="#333" stroke-width="1.0"/>
<line x1="403.95" y1="425.01" x2="413.85" y2="425.01" stroke="#333" stroke-width="1.0"/>
<rect x="399.00" y="427.40" width="19.80" height="2.00" fill="url(#dk)" stroke="#222" stroke-width="0.9"/>
<line x1="408.90" y1="429.40" x2="408.90" y2="431.20" stroke="#222" stroke-width="0.8"/>
<text x="408.90" y="436.20" font-size="4.8" font-weight="bold" text-anchor="middle" textLength="9.80" lengthAdjust="spacingAndGlyphs" fill="#222" stroke="#222" stroke-width="0.25">UTD</text>
<line x1="436.90" y1="421.01" x2="436.90" y2="417.82" stroke="#333" stroke-width="1.0"/>
<line x1="432.00" y1="417.82" x2="441.80" y2="417.82" stroke="#333" stroke-width="1.0"/>
<rect x="427.10" y="421.01" width="19.60" height="8.39" fill="url(#hx)" stroke="#444" stroke-width="0.9"/>
<line x1="436.90" y1="429.40" x2="436.90" y2="431.20" stroke="#222" stroke-width="0.8"/>
<text x="436.90" y="436.20" font-size="4.8" font-weight="bold" text-anchor="middle" textLength="21.80" lengthAdjust="spacingAndGlyphs" fill="#222" stroke="#222" stroke-width="0.25">GPC3-28Z</text>
<line x1="465.80" y1="385.07" x2="465.80" y2="378.08" stroke="#333" stroke-width="1.0"/>
<line x1="461.20" y1="378.08" x2="470.40" y2="378.08" stroke="#333" stroke-width="1.0"/>
<rect x="456.20" y="385.07" width="19.20" height="44.33" fill="url(#hs)" stroke="#444" stroke-width="0.9"/>
<line x1="465.80" y1="429.40" x2="465.80" y2="431.20" stroke="#222" stroke-width="0.8"/>
<text x="453.50" y="436.20" font-size="4.8" font-weight="bold" textLength="46.30" lengthAdjust="spacingAndGlyphs" fill="#222" stroke="#222" stroke-width="0.25">GPC3-28Z-NFAT-IL12</text>
<line x1="436.50" y1="374.40" x2="465.20" y2="374.40" stroke="#999" stroke-width="1.0"/>
<line x1="436.50" y1="372.40" x2="436.50" y2="376.40" stroke="#777" stroke-width="0.9"/>
<line x1="465.20" y1="372.40" x2="465.20" y2="376.40" stroke="#777" stroke-width="0.9"/>
<text x="452.10" y="374.20" font-size="5.6" text-anchor="middle" textLength="6.00" lengthAdjust="spacingAndGlyphs" fill="#666" stroke="#666" stroke-width="0.15">***</text>
<text transform="translate(386.20 423.20) rotate(-90)" font-size="5.6" font-weight="bold" fill="#222" stroke="#222" stroke-width="0.25" textLength="46.80" lengthAdjust="spacingAndGlyphs">IL-12(p70) (pg/ml)</text>
</svg>
</body></html>
